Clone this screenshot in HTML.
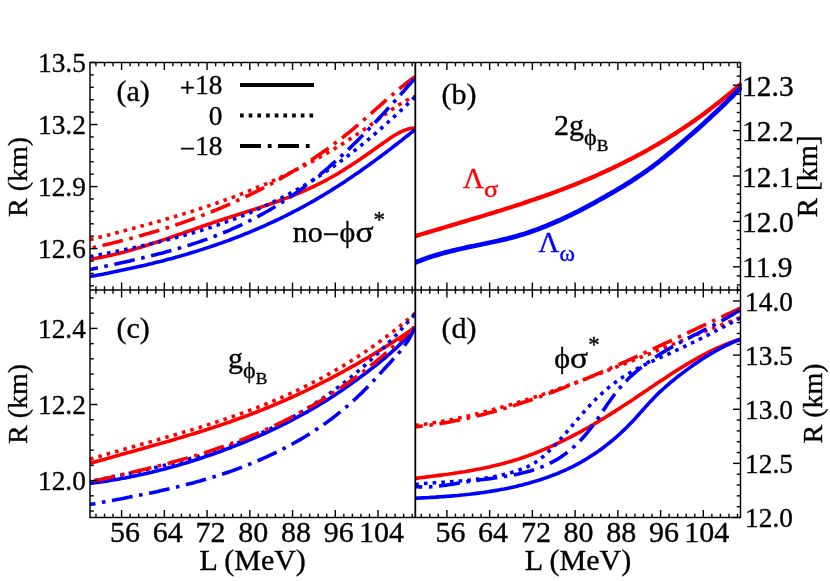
<!DOCTYPE html>
<html><head><meta charset="utf-8"><title>R vs L</title>
<style>
html,body{margin:0;padding:0;background:#fff;}
body{width:830px;height:581px;overflow:hidden;}
svg{display:block;font-family:"Liberation Serif",serif;}
text{stroke-width:0.35px;paint-order:stroke;}
svg{will-change:transform;}
</style></head><body>
<svg width="830" height="581" viewBox="0 0 830 581">
<defs>
<clipPath id="ca"><rect x="90.0" y="62.5" width="325.3" height="227.5"/></clipPath>
<clipPath id="cb"><rect x="415.3" y="62.5" width="325.2" height="227.5"/></clipPath>
<clipPath id="cb2"><rect x="415.3" y="62.5" width="326.7" height="227.5"/></clipPath>
<clipPath id="cc"><rect x="90.0" y="290.0" width="325.3" height="227.5"/></clipPath>
<clipPath id="cd"><rect x="415.3" y="290.0" width="325.2" height="227.5"/></clipPath>
</defs>
<rect width="830" height="581" fill="#fff"/>
<path d="M90.0,259.3 L92.3,258.9 L94.7,258.5 L97.0,258.1 L99.4,257.7 L101.7,257.3 L104.0,256.8 L106.4,256.3 L108.7,255.8 L111.1,255.3 L113.4,254.7 L115.7,254.1 L118.1,253.6 L120.4,253.0 L122.8,252.4 L125.1,251.7 L127.4,251.1 L129.8,250.5 L132.1,249.8 L134.5,249.1 L136.8,248.4 L139.1,247.7 L141.5,247.0 L143.8,246.3 L146.2,245.5 L148.5,244.8 L150.8,244.0 L153.2,243.3 L155.5,242.5 L157.9,241.7 L160.2,240.9 L162.5,240.2 L164.9,239.4 L167.2,238.6 L169.6,237.8 L171.9,236.9 L174.3,236.1 L176.6,235.3 L178.9,234.5 L181.3,233.7 L183.6,232.9 L186.0,232.0 L188.3,231.2 L190.6,230.4 L193.0,229.6 L195.3,228.8 L197.7,227.9 L200.0,227.1 L202.3,226.3 L204.7,225.5 L207.0,224.7 L209.4,223.9 L211.7,223.1 L214.0,222.3 L216.4,221.5 L218.7,220.8 L221.1,220.0 L223.4,219.2 L225.7,218.5 L228.1,217.7 L230.4,217.0 L232.8,216.2 L235.1,215.5 L237.4,214.7 L239.8,214.0 L242.1,213.2 L244.5,212.5 L246.8,211.7 L249.1,211.0 L251.5,210.2 L253.8,209.5 L256.2,208.7 L258.5,207.9 L260.8,207.2 L263.2,206.4 L265.5,205.6 L267.9,204.8 L270.2,204.0 L272.5,203.2 L274.9,202.4 L277.2,201.5 L279.6,200.7 L281.9,199.8 L284.2,198.9 L286.6,198.1 L288.9,197.1 L291.3,196.2 L293.6,195.3 L295.9,194.3 L298.3,193.4 L300.6,192.4 L303.0,191.4 L305.3,190.3 L307.6,189.3 L310.0,188.2 L312.3,187.1 L314.7,186.0 L317.0,184.9 L319.3,183.7 L321.7,182.5 L324.0,181.3 L326.4,180.1 L328.7,178.8 L331.0,177.5 L333.4,176.2 L335.7,174.8 L338.1,173.5 L340.4,172.0 L342.8,170.6 L345.1,169.1 L347.4,167.6 L349.8,166.1 L352.1,164.6 L354.5,163.0 L356.8,161.5 L359.1,159.9 L361.5,158.3 L363.8,156.7 L366.2,155.0 L368.5,153.4 L370.8,151.8 L373.2,150.1 L375.5,148.5 L377.9,146.8 L380.2,145.2 L382.5,143.5 L384.9,141.9 L387.2,140.2 L389.6,138.6 L391.9,137.1 L394.2,135.6 L396.6,134.2 L398.9,132.8 L401.3,131.6 L403.6,130.6 L405.9,129.7 L408.3,129.0 L410.6,128.4 L413.0,128.1 L415.3,128.1" fill="none" stroke="#ff0000" stroke-width="3.6" clip-path="url(#ca)"/>
<path d="M90.0,276.5 L92.3,276.1 L94.7,275.7 L97.0,275.2 L99.4,274.8 L101.7,274.4 L104.0,273.9 L106.4,273.4 L108.7,273.0 L111.1,272.5 L113.4,272.1 L115.7,271.6 L118.1,271.1 L120.4,270.6 L122.8,270.1 L125.1,269.6 L127.4,269.1 L129.8,268.6 L132.1,268.1 L134.5,267.6 L136.8,267.1 L139.1,266.5 L141.5,266.0 L143.8,265.5 L146.2,264.9 L148.5,264.3 L150.8,263.8 L153.2,263.2 L155.5,262.6 L157.9,262.0 L160.2,261.5 L162.5,260.9 L164.9,260.2 L167.2,259.6 L169.6,259.0 L171.9,258.4 L174.3,257.7 L176.6,257.1 L178.9,256.4 L181.3,255.8 L183.6,255.1 L186.0,254.4 L188.3,253.7 L190.6,253.0 L193.0,252.3 L195.3,251.6 L197.7,250.9 L200.0,250.1 L202.3,249.4 L204.7,248.6 L207.0,247.9 L209.4,247.1 L211.7,246.3 L214.0,245.5 L216.4,244.7 L218.7,243.9 L221.1,243.1 L223.4,242.3 L225.7,241.4 L228.1,240.6 L230.4,239.7 L232.8,238.8 L235.1,237.9 L237.4,237.0 L239.8,236.1 L242.1,235.2 L244.5,234.2 L246.8,233.3 L249.1,232.3 L251.5,231.4 L253.8,230.4 L256.2,229.4 L258.5,228.4 L260.8,227.4 L263.2,226.3 L265.5,225.3 L267.9,224.2 L270.2,223.2 L272.5,222.1 L274.9,221.0 L277.2,219.9 L279.6,218.8 L281.9,217.6 L284.2,216.5 L286.6,215.3 L288.9,214.1 L291.3,212.9 L293.6,211.7 L295.9,210.5 L298.3,209.3 L300.6,208.0 L303.0,206.8 L305.3,205.5 L307.6,204.2 L310.0,202.9 L312.3,201.6 L314.7,200.2 L317.0,198.9 L319.3,197.5 L321.7,196.1 L324.0,194.7 L326.4,193.3 L328.7,191.9 L331.0,190.4 L333.4,188.9 L335.7,187.5 L338.1,186.0 L340.4,184.5 L342.8,182.9 L345.1,181.4 L347.4,179.8 L349.8,178.3 L352.1,176.7 L354.5,175.1 L356.8,173.5 L359.1,171.9 L361.5,170.2 L363.8,168.6 L366.2,166.9 L368.5,165.2 L370.8,163.6 L373.2,161.9 L375.5,160.1 L377.9,158.4 L380.2,156.7 L382.5,154.9 L384.9,153.2 L387.2,151.4 L389.6,149.6 L391.9,147.8 L394.2,146.0 L396.6,144.2 L398.9,142.4 L401.3,140.6 L403.6,138.7 L405.9,136.9 L408.3,135.0 L410.6,133.2 L413.0,131.3 L415.3,129.4" fill="none" stroke="#0000ff" stroke-width="3.6" clip-path="url(#ca)"/>
<path d="M90.0,239.7 L92.3,239.1 L94.7,238.5 L97.0,237.9 L99.4,237.3 L101.7,236.7 L104.0,236.1 L106.4,235.5 L108.7,234.9 L111.1,234.2 L113.4,233.6 L115.7,233.0 L118.1,232.4 L120.4,231.8 L122.8,231.2 L125.1,230.5 L127.4,229.9 L129.8,229.3 L132.1,228.7 L134.5,228.0 L136.8,227.4 L139.1,226.7 L141.5,226.1 L143.8,225.5 L146.2,224.8 L148.5,224.2 L150.8,223.5 L153.2,222.9 L155.5,222.2 L157.9,221.5 L160.2,220.9 L162.5,220.2 L164.9,219.5 L167.2,218.8 L169.6,218.1 L171.9,217.4 L174.3,216.8 L176.6,216.0 L178.9,215.3 L181.3,214.6 L183.6,213.9 L186.0,213.2 L188.3,212.5 L190.6,211.7 L193.0,211.0 L195.3,210.2 L197.7,209.5 L200.0,208.7 L202.3,207.9 L204.7,207.2 L207.0,206.4 L209.4,205.6 L211.7,204.8 L214.0,204.0 L216.4,203.2 L218.7,202.3 L221.1,201.5 L223.4,200.7 L225.7,199.8 L228.1,199.0 L230.4,198.1 L232.8,197.2 L235.1,196.4 L237.4,195.5 L239.8,194.6 L242.1,193.7 L244.5,192.8 L246.8,191.8 L249.1,190.9 L251.5,189.9 L253.8,189.0 L256.2,188.0 L258.5,187.0 L260.8,186.1 L263.2,185.1 L265.5,184.1 L267.9,183.0 L270.2,182.0 L272.5,181.0 L274.9,179.9 L277.2,178.8 L279.6,177.8 L281.9,176.7 L284.2,175.6 L286.6,174.5 L288.9,173.3 L291.3,172.2 L293.6,171.0 L295.9,169.9 L298.3,168.7 L300.6,167.5 L303.0,166.3 L305.3,165.1 L307.6,163.9 L310.0,162.6 L312.3,161.4 L314.7,160.1 L317.0,158.8 L319.3,157.5 L321.7,156.2 L324.0,154.8 L326.4,153.5 L328.7,152.1 L331.0,150.8 L333.4,149.4 L335.7,148.0 L338.1,146.5 L340.4,145.1 L342.8,143.6 L345.1,142.1 L347.4,140.6 L349.8,139.1 L352.1,137.6 L354.5,136.1 L356.8,134.5 L359.1,132.9 L361.5,131.3 L363.8,129.7 L366.2,128.1 L368.5,126.4 L370.8,124.7 L373.2,123.0 L375.5,121.3 L377.9,119.6 L380.2,117.9 L382.5,116.2 L384.9,114.5 L387.2,112.8 L389.6,111.2 L391.9,109.6 L394.2,108.0 L396.6,106.4 L398.9,104.9 L401.3,103.5 L403.6,102.1 L405.9,100.7 L408.3,99.5 L410.6,98.3 L413.0,97.2 L415.3,96.1" fill="none" stroke="#ff0000" stroke-width="3.6" stroke-dasharray="3.6,5.1" stroke-dashoffset="0" clip-path="url(#ca)"/>
<path d="M90.0,256.7 L92.3,256.2 L94.7,255.7 L97.0,255.3 L99.4,254.8 L101.7,254.3 L104.0,253.9 L106.4,253.4 L108.7,252.9 L111.1,252.5 L113.4,252.0 L115.7,251.5 L118.1,251.0 L120.4,250.5 L122.8,250.0 L125.1,249.5 L127.4,249.0 L129.8,248.5 L132.1,248.0 L134.5,247.5 L136.8,247.0 L139.1,246.5 L141.5,246.0 L143.8,245.4 L146.2,244.9 L148.5,244.4 L150.8,243.8 L153.2,243.3 L155.5,242.7 L157.9,242.2 L160.2,241.6 L162.5,241.0 L164.9,240.4 L167.2,239.8 L169.6,239.2 L171.9,238.6 L174.3,238.0 L176.6,237.4 L178.9,236.8 L181.3,236.1 L183.6,235.5 L186.0,234.8 L188.3,234.2 L190.6,233.5 L193.0,232.8 L195.3,232.1 L197.7,231.4 L200.0,230.7 L202.3,230.0 L204.7,229.2 L207.0,228.5 L209.4,227.7 L211.7,227.0 L214.0,226.2 L216.4,225.4 L218.7,224.6 L221.1,223.8 L223.4,222.9 L225.7,222.1 L228.1,221.3 L230.4,220.4 L232.8,219.5 L235.1,218.6 L237.4,217.7 L239.8,216.8 L242.1,215.9 L244.5,214.9 L246.8,214.0 L249.1,213.0 L251.5,212.0 L253.8,211.0 L256.2,210.0 L258.5,208.9 L260.8,207.9 L263.2,206.8 L265.5,205.7 L267.9,204.6 L270.2,203.5 L272.5,202.4 L274.9,201.2 L277.2,200.1 L279.6,198.9 L281.9,197.7 L284.2,196.5 L286.6,195.2 L288.9,194.0 L291.3,192.7 L293.6,191.4 L295.9,190.1 L298.3,188.8 L300.6,187.4 L303.0,186.1 L305.3,184.7 L307.6,183.3 L310.0,181.9 L312.3,180.4 L314.7,178.9 L317.0,177.5 L319.3,176.0 L321.7,174.4 L324.0,172.9 L326.4,171.3 L328.7,169.7 L331.0,168.1 L333.4,166.5 L335.7,164.8 L338.1,163.1 L340.4,161.4 L342.8,159.7 L345.1,157.9 L347.4,156.2 L349.8,154.4 L352.1,152.6 L354.5,150.7 L356.8,148.9 L359.1,147.0 L361.5,145.1 L363.8,143.2 L366.2,141.3 L368.5,139.3 L370.8,137.4 L373.2,135.4 L375.5,133.4 L377.9,131.3 L380.2,129.3 L382.5,127.2 L384.9,125.1 L387.2,123.0 L389.6,120.9 L391.9,118.8 L394.2,116.6 L396.6,114.5 L398.9,112.3 L401.3,110.1 L403.6,107.9 L405.9,105.7 L408.3,103.4 L410.6,101.2 L413.0,98.9 L415.3,96.6" fill="none" stroke="#0000ff" stroke-width="3.6" stroke-dasharray="3.6,5.1" stroke-dashoffset="0" clip-path="url(#ca)"/>
<path d="M90.0,248.2 L92.3,247.7 L94.7,247.2 L97.0,246.7 L99.4,246.1 L101.7,245.6 L104.0,245.1 L106.4,244.5 L108.7,244.0 L111.1,243.4 L113.4,242.8 L115.7,242.3 L118.1,241.7 L120.4,241.1 L122.8,240.5 L125.1,239.9 L127.4,239.3 L129.8,238.7 L132.1,238.0 L134.5,237.4 L136.8,236.8 L139.1,236.1 L141.5,235.5 L143.8,234.8 L146.2,234.1 L148.5,233.5 L150.8,232.8 L153.2,232.1 L155.5,231.4 L157.9,230.7 L160.2,229.9 L162.5,229.2 L164.9,228.5 L167.2,227.7 L169.6,227.0 L171.9,226.2 L174.3,225.4 L176.6,224.7 L178.9,223.9 L181.3,223.1 L183.6,222.2 L186.0,221.4 L188.3,220.6 L190.6,219.8 L193.0,218.9 L195.3,218.0 L197.7,217.2 L200.0,216.3 L202.3,215.4 L204.7,214.5 L207.0,213.6 L209.4,212.6 L211.7,211.7 L214.0,210.8 L216.4,209.8 L218.7,208.8 L221.1,207.8 L223.4,206.8 L225.7,205.8 L228.1,204.8 L230.4,203.8 L232.8,202.7 L235.1,201.7 L237.4,200.6 L239.8,199.5 L242.1,198.5 L244.5,197.4 L246.8,196.2 L249.1,195.1 L251.5,194.0 L253.8,192.8 L256.2,191.6 L258.5,190.5 L260.8,189.3 L263.2,188.0 L265.5,186.8 L267.9,185.6 L270.2,184.3 L272.5,183.1 L274.9,181.8 L277.2,180.5 L279.6,179.2 L281.9,177.9 L284.2,176.5 L286.6,175.2 L288.9,173.8 L291.3,172.4 L293.6,171.0 L295.9,169.6 L298.3,168.2 L300.6,166.7 L303.0,165.3 L305.3,163.8 L307.6,162.3 L310.0,160.8 L312.3,159.2 L314.7,157.7 L317.0,156.1 L319.3,154.5 L321.7,152.9 L324.0,151.3 L326.4,149.6 L328.7,147.9 L331.0,146.2 L333.4,144.5 L335.7,142.7 L338.1,141.0 L340.4,139.2 L342.8,137.4 L345.1,135.5 L347.4,133.7 L349.8,131.8 L352.1,129.9 L354.5,127.9 L356.8,126.0 L359.1,124.0 L361.5,121.9 L363.8,119.9 L366.2,117.9 L368.5,115.8 L370.8,113.7 L373.2,111.6 L375.5,109.5 L377.9,107.4 L380.2,105.4 L382.5,103.3 L384.9,101.2 L387.2,99.1 L389.6,97.1 L391.9,95.1 L394.2,93.1 L396.6,91.1 L398.9,89.2 L401.3,87.2 L403.6,85.4 L405.9,83.5 L408.3,81.7 L410.6,80.0 L413.0,78.3 L415.3,76.6" fill="none" stroke="#ff0000" stroke-width="3.6" stroke-dasharray="21,6.6,3.6,6.6" stroke-dashoffset="25" clip-path="url(#ca)"/>
<path d="M90.0,269.4 L92.3,269.0 L94.7,268.5 L97.0,268.0 L99.4,267.5 L101.7,267.0 L104.0,266.5 L106.4,266.0 L108.7,265.5 L111.1,265.0 L113.4,264.5 L115.7,264.0 L118.1,263.4 L120.4,262.9 L122.8,262.4 L125.1,261.9 L127.4,261.4 L129.8,260.9 L132.1,260.3 L134.5,259.8 L136.8,259.2 L139.1,258.7 L141.5,258.2 L143.8,257.6 L146.2,257.0 L148.5,256.5 L150.8,255.9 L153.2,255.3 L155.5,254.7 L157.9,254.1 L160.2,253.5 L162.5,252.9 L164.9,252.2 L167.2,251.6 L169.6,251.0 L171.9,250.3 L174.3,249.6 L176.6,249.0 L178.9,248.3 L181.3,247.6 L183.6,246.9 L186.0,246.2 L188.3,245.4 L190.6,244.7 L193.0,243.9 L195.3,243.1 L197.7,242.4 L200.0,241.6 L202.3,240.7 L204.7,239.9 L207.0,239.1 L209.4,238.2 L211.7,237.3 L214.0,236.5 L216.4,235.5 L218.7,234.6 L221.1,233.7 L223.4,232.7 L225.7,231.8 L228.1,230.8 L230.4,229.8 L232.8,228.7 L235.1,227.7 L237.4,226.6 L239.8,225.6 L242.1,224.5 L244.5,223.3 L246.8,222.2 L249.1,221.0 L251.5,219.8 L253.8,218.6 L256.2,217.4 L258.5,216.2 L260.8,214.9 L263.2,213.6 L265.5,212.3 L267.9,211.0 L270.2,209.6 L272.5,208.2 L274.9,206.8 L277.2,205.4 L279.6,203.9 L281.9,202.5 L284.2,200.9 L286.6,199.4 L288.9,197.9 L291.3,196.3 L293.6,194.7 L295.9,193.0 L298.3,191.4 L300.6,189.7 L303.0,188.0 L305.3,186.2 L307.6,184.4 L310.0,182.6 L312.3,180.8 L314.7,178.9 L317.0,177.1 L319.3,175.2 L321.7,173.2 L324.0,171.3 L326.4,169.3 L328.7,167.3 L331.0,165.2 L333.4,163.2 L335.7,161.1 L338.1,159.0 L340.4,156.8 L342.8,154.7 L345.1,152.5 L347.4,150.3 L349.8,148.1 L352.1,145.8 L354.5,143.5 L356.8,141.2 L359.1,138.9 L361.5,136.6 L363.8,134.2 L366.2,131.8 L368.5,129.4 L370.8,127.0 L373.2,124.5 L375.5,122.0 L377.9,119.5 L380.2,117.0 L382.5,114.5 L384.9,112.0 L387.2,109.4 L389.6,106.8 L391.9,104.3 L394.2,101.7 L396.6,99.1 L398.9,96.4 L401.3,93.8 L403.6,91.2 L405.9,88.5 L408.3,85.8 L410.6,83.2 L413.0,80.5 L415.3,77.8" fill="none" stroke="#0000ff" stroke-width="3.6" stroke-dasharray="21,6.6,3.6,6.6" stroke-dashoffset="13" clip-path="url(#ca)"/>
<path d="M415.3,236.2 L417.6,235.4 L420.0,234.7 L422.3,234.0 L424.7,233.3 L427.0,232.6 L429.4,231.9 L431.7,231.2 L434.1,230.5 L436.4,229.8 L438.8,229.1 L441.1,228.4 L443.5,227.7 L445.8,227.0 L448.2,226.3 L450.5,225.6 L452.8,224.9 L455.2,224.2 L457.5,223.5 L459.9,222.8 L462.2,222.1 L464.6,221.4 L466.9,220.7 L469.3,220.0 L471.6,219.3 L474.0,218.6 L476.3,217.9 L478.7,217.2 L481.0,216.5 L483.4,215.8 L485.7,215.0 L488.0,214.3 L490.4,213.6 L492.7,212.9 L495.1,212.2 L497.4,211.4 L499.8,210.7 L502.1,210.0 L504.5,209.2 L506.8,208.5 L509.2,207.8 L511.5,207.0 L513.9,206.3 L516.2,205.5 L518.6,204.7 L520.9,204.0 L523.3,203.2 L525.6,202.4 L527.9,201.6 L530.3,200.8 L532.6,200.0 L535.0,199.2 L537.3,198.4 L539.7,197.6 L542.0,196.8 L544.4,196.0 L546.7,195.1 L549.1,194.3 L551.4,193.4 L553.8,192.6 L556.1,191.7 L558.5,190.8 L560.8,190.0 L563.1,189.1 L565.5,188.2 L567.8,187.3 L570.2,186.3 L572.5,185.4 L574.9,184.5 L577.2,183.5 L579.6,182.6 L581.9,181.6 L584.3,180.6 L586.6,179.7 L589.0,178.7 L591.3,177.7 L593.7,176.7 L596.0,175.6 L598.3,174.6 L600.7,173.5 L603.0,172.5 L605.4,171.4 L607.7,170.3 L610.1,169.2 L612.4,168.1 L614.8,167.0 L617.1,165.9 L619.5,164.7 L621.8,163.6 L624.2,162.4 L626.5,161.2 L628.9,160.0 L631.2,158.8 L633.5,157.6 L635.9,156.4 L638.2,155.1 L640.6,153.9 L642.9,152.6 L645.3,151.3 L647.6,150.0 L650.0,148.7 L652.3,147.3 L654.7,146.0 L657.0,144.6 L659.4,143.2 L661.7,141.8 L664.1,140.4 L666.4,139.0 L668.8,137.5 L671.1,136.0 L673.4,134.6 L675.8,133.1 L678.1,131.5 L680.5,130.0 L682.8,128.5 L685.2,126.9 L687.5,125.3 L689.9,123.7 L692.2,122.1 L694.6,120.4 L696.9,118.8 L699.3,117.1 L701.6,115.4 L704.0,113.7 L706.3,111.9 L708.6,110.2 L711.0,108.4 L713.3,106.6 L715.7,104.8 L718.0,103.0 L720.4,101.1 L722.7,99.2 L725.1,97.3 L727.4,95.4 L729.8,93.5 L732.1,91.5 L734.5,89.5 L736.8,87.5 L739.2,85.5 L741.5,83.4" fill="none" stroke="#ff0000" stroke-width="4.3" clip-path="url(#cb2)"/>
<path d="M415.3,262.6 L417.6,261.6 L420.0,260.7 L422.3,259.8 L424.7,258.9 L427.0,258.1 L429.4,257.3 L431.7,256.5 L434.1,255.8 L436.4,255.1 L438.8,254.4 L441.1,253.7 L443.5,253.0 L445.8,252.4 L448.2,251.8 L450.5,251.2 L452.8,250.6 L455.2,250.1 L457.5,249.5 L459.9,249.0 L462.2,248.5 L464.6,248.0 L466.9,247.4 L469.3,246.9 L471.6,246.4 L474.0,246.0 L476.3,245.5 L478.7,245.0 L481.0,244.5 L483.4,244.0 L485.7,243.5 L488.0,243.0 L490.4,242.5 L492.7,242.0 L495.1,241.5 L497.4,241.0 L499.8,240.4 L502.1,239.9 L504.5,239.3 L506.8,238.8 L509.2,238.2 L511.5,237.6 L513.9,236.9 L516.2,236.3 L518.6,235.6 L520.9,234.9 L523.3,234.2 L525.6,233.5 L527.9,232.7 L530.3,231.9 L532.6,231.1 L535.0,230.3 L537.3,229.4 L539.7,228.6 L542.0,227.6 L544.4,226.7 L546.7,225.8 L549.1,224.8 L551.4,223.8 L553.8,222.8 L556.1,221.8 L558.5,220.7 L560.8,219.7 L563.1,218.6 L565.5,217.5 L567.8,216.4 L570.2,215.3 L572.5,214.1 L574.9,212.9 L577.2,211.8 L579.6,210.6 L581.9,209.4 L584.3,208.1 L586.6,206.9 L589.0,205.6 L591.3,204.4 L593.7,203.1 L596.0,201.8 L598.3,200.5 L600.7,199.2 L603.0,197.9 L605.4,196.6 L607.7,195.2 L610.1,193.9 L612.4,192.5 L614.8,191.2 L617.1,189.8 L619.5,188.4 L621.8,187.0 L624.2,185.6 L626.5,184.1 L628.9,182.6 L631.2,181.2 L633.5,179.6 L635.9,178.1 L638.2,176.6 L640.6,175.0 L642.9,173.4 L645.3,171.7 L647.6,170.1 L650.0,168.4 L652.3,166.7 L654.7,164.9 L657.0,163.1 L659.4,161.3 L661.7,159.4 L664.1,157.6 L666.4,155.7 L668.8,153.7 L671.1,151.8 L673.4,149.8 L675.8,147.9 L678.1,145.9 L680.5,143.9 L682.8,141.9 L685.2,139.8 L687.5,137.8 L689.9,135.8 L692.2,133.7 L694.6,131.6 L696.9,129.6 L699.3,127.5 L701.6,125.4 L704.0,123.2 L706.3,121.1 L708.6,119.0 L711.0,116.8 L713.3,114.6 L715.7,112.4 L718.0,110.2 L720.4,108.0 L722.7,105.7 L725.1,103.4 L727.4,101.1 L729.8,98.8 L732.1,96.5 L734.5,94.1 L736.8,91.8 L739.2,89.4 L741.5,86.9" fill="none" stroke="#0000ff" stroke-width="4.8" clip-path="url(#cb2)"/>
<path d="M90.0,463.4 L92.3,462.7 L94.7,462.0 L97.0,461.3 L99.4,460.7 L101.7,460.0 L104.0,459.4 L106.4,458.7 L108.7,458.0 L111.1,457.4 L113.4,456.7 L115.7,456.1 L118.1,455.4 L120.4,454.8 L122.8,454.1 L125.1,453.5 L127.4,452.8 L129.8,452.2 L132.1,451.5 L134.5,450.9 L136.8,450.2 L139.1,449.6 L141.5,448.9 L143.8,448.2 L146.2,447.6 L148.5,446.9 L150.8,446.3 L153.2,445.6 L155.5,444.9 L157.9,444.3 L160.2,443.6 L162.5,442.9 L164.9,442.3 L167.2,441.6 L169.6,440.9 L171.9,440.2 L174.3,439.5 L176.6,438.8 L178.9,438.1 L181.3,437.4 L183.6,436.7 L186.0,436.0 L188.3,435.3 L190.6,434.6 L193.0,433.9 L195.3,433.2 L197.7,432.5 L200.0,431.7 L202.3,431.0 L204.7,430.2 L207.0,429.5 L209.4,428.7 L211.7,428.0 L214.0,427.2 L216.4,426.4 L218.7,425.7 L221.1,424.9 L223.4,424.1 L225.7,423.3 L228.1,422.5 L230.4,421.7 L232.8,420.8 L235.1,420.0 L237.4,419.2 L239.8,418.3 L242.1,417.5 L244.5,416.6 L246.8,415.8 L249.1,414.9 L251.5,414.0 L253.8,413.1 L256.2,412.2 L258.5,411.3 L260.8,410.4 L263.2,409.4 L265.5,408.5 L267.9,407.5 L270.2,406.6 L272.5,405.6 L274.9,404.6 L277.2,403.6 L279.6,402.6 L281.9,401.6 L284.2,400.6 L286.6,399.6 L288.9,398.5 L291.3,397.5 L293.6,396.4 L295.9,395.4 L298.3,394.3 L300.6,393.2 L303.0,392.1 L305.3,391.0 L307.6,389.9 L310.0,388.7 L312.3,387.6 L314.7,386.4 L317.0,385.3 L319.3,384.1 L321.7,382.9 L324.0,381.7 L326.4,380.5 L328.7,379.3 L331.0,378.1 L333.4,376.8 L335.7,375.6 L338.1,374.4 L340.4,373.1 L342.8,371.8 L345.1,370.5 L347.4,369.2 L349.8,367.9 L352.1,366.6 L354.5,365.3 L356.8,364.0 L359.1,362.6 L361.5,361.3 L363.8,359.9 L366.2,358.5 L368.5,357.2 L370.8,355.8 L373.2,354.4 L375.5,352.9 L377.9,351.5 L380.2,350.1 L382.5,348.6 L384.9,347.2 L387.2,345.7 L389.6,344.2 L391.9,342.8 L394.2,341.3 L396.6,339.8 L398.9,338.2 L401.3,336.7 L403.6,335.2 L405.9,333.6 L408.3,332.1 L410.6,330.5 L413.0,329.0 L415.3,327.4" fill="none" stroke="#ff0000" stroke-width="3.6" clip-path="url(#cc)"/>
<path d="M90.0,483.4 L92.3,483.1 L94.7,482.8 L97.0,482.5 L99.4,482.1 L101.7,481.8 L104.0,481.5 L106.4,481.1 L108.7,480.7 L111.1,480.3 L113.4,480.0 L115.7,479.6 L118.1,479.2 L120.4,478.7 L122.8,478.3 L125.1,477.9 L127.4,477.4 L129.8,477.0 L132.1,476.5 L134.5,476.0 L136.8,475.5 L139.1,475.0 L141.5,474.5 L143.8,474.0 L146.2,473.5 L148.5,472.9 L150.8,472.4 L153.2,471.8 L155.5,471.2 L157.9,470.7 L160.2,470.1 L162.5,469.5 L164.9,468.9 L167.2,468.2 L169.6,467.6 L171.9,467.0 L174.3,466.3 L176.6,465.7 L178.9,465.0 L181.3,464.3 L183.6,463.6 L186.0,462.9 L188.3,462.2 L190.6,461.5 L193.0,460.8 L195.3,460.0 L197.7,459.3 L200.0,458.5 L202.3,457.7 L204.7,456.9 L207.0,456.1 L209.4,455.3 L211.7,454.5 L214.0,453.7 L216.4,452.9 L218.7,452.0 L221.1,451.2 L223.4,450.3 L225.7,449.4 L228.1,448.5 L230.4,447.7 L232.8,446.7 L235.1,445.8 L237.4,444.9 L239.8,444.0 L242.1,443.0 L244.5,442.1 L246.8,441.1 L249.1,440.1 L251.5,439.1 L253.8,438.1 L256.2,437.1 L258.5,436.1 L260.8,435.1 L263.2,434.0 L265.5,433.0 L267.9,431.9 L270.2,430.8 L272.5,429.7 L274.9,428.6 L277.2,427.5 L279.6,426.3 L281.9,425.2 L284.2,424.0 L286.6,422.9 L288.9,421.7 L291.3,420.4 L293.6,419.2 L295.9,418.0 L298.3,416.7 L300.6,415.5 L303.0,414.2 L305.3,412.9 L307.6,411.6 L310.0,410.2 L312.3,408.9 L314.7,407.5 L317.0,406.1 L319.3,404.7 L321.7,403.3 L324.0,401.9 L326.4,400.4 L328.7,398.9 L331.0,397.4 L333.4,395.9 L335.7,394.4 L338.1,392.8 L340.4,391.3 L342.8,389.7 L345.1,388.1 L347.4,386.4 L349.8,384.8 L352.1,383.1 L354.5,381.4 L356.8,379.7 L359.1,378.0 L361.5,376.3 L363.8,374.5 L366.2,372.7 L368.5,371.0 L370.8,369.2 L373.2,367.4 L375.5,365.5 L377.9,363.7 L380.2,361.8 L382.5,359.9 L384.9,358.0 L387.2,356.0 L389.6,354.0 L391.9,351.9 L394.2,349.8 L396.6,347.7 L398.9,345.4 L401.3,343.2 L403.6,340.8 L405.9,338.4 L408.3,336.0 L410.6,333.4 L413.0,330.8 L415.3,328.0" fill="none" stroke="#0000ff" stroke-width="3.6" clip-path="url(#cc)"/>
<path d="M90.0,459.2 L92.3,458.5 L94.7,457.8 L97.0,457.1 L99.4,456.4 L101.7,455.7 L104.0,455.0 L106.4,454.4 L108.7,453.7 L111.1,453.0 L113.4,452.3 L115.7,451.6 L118.1,451.0 L120.4,450.3 L122.8,449.6 L125.1,449.0 L127.4,448.3 L129.8,447.6 L132.1,447.0 L134.5,446.3 L136.8,445.7 L139.1,445.0 L141.5,444.3 L143.8,443.7 L146.2,443.0 L148.5,442.4 L150.8,441.7 L153.2,441.0 L155.5,440.4 L157.9,439.7 L160.2,439.0 L162.5,438.4 L164.9,437.7 L167.2,437.0 L169.6,436.3 L171.9,435.7 L174.3,435.0 L176.6,434.3 L178.9,433.6 L181.3,432.9 L183.6,432.2 L186.0,431.5 L188.3,430.8 L190.6,430.1 L193.0,429.4 L195.3,428.7 L197.7,428.0 L200.0,427.3 L202.3,426.5 L204.7,425.8 L207.0,425.1 L209.4,424.3 L211.7,423.6 L214.0,422.8 L216.4,422.0 L218.7,421.3 L221.1,420.5 L223.4,419.7 L225.7,418.9 L228.1,418.1 L230.4,417.3 L232.8,416.5 L235.1,415.7 L237.4,414.9 L239.8,414.0 L242.1,413.2 L244.5,412.3 L246.8,411.5 L249.1,410.6 L251.5,409.7 L253.8,408.8 L256.2,407.9 L258.5,407.0 L260.8,406.1 L263.2,405.2 L265.5,404.2 L267.9,403.3 L270.2,402.3 L272.5,401.3 L274.9,400.3 L277.2,399.3 L279.6,398.3 L281.9,397.3 L284.2,396.3 L286.6,395.2 L288.9,394.2 L291.3,393.1 L293.6,392.0 L295.9,390.9 L298.3,389.8 L300.6,388.7 L303.0,387.6 L305.3,386.4 L307.6,385.3 L310.0,384.1 L312.3,382.9 L314.7,381.7 L317.0,380.5 L319.3,379.2 L321.7,378.0 L324.0,376.7 L326.4,375.4 L328.7,374.1 L331.0,372.8 L333.4,371.5 L335.7,370.1 L338.1,368.8 L340.4,367.4 L342.8,366.0 L345.1,364.6 L347.4,363.2 L349.8,361.7 L352.1,360.2 L354.5,358.8 L356.8,357.3 L359.1,355.7 L361.5,354.2 L363.8,352.6 L366.2,351.1 L368.5,349.5 L370.8,347.8 L373.2,346.2 L375.5,344.6 L377.9,342.9 L380.2,341.2 L382.5,339.5 L384.9,337.7 L387.2,336.0 L389.6,334.2 L391.9,332.4 L394.2,330.6 L396.6,328.7 L398.9,326.9 L401.3,325.0 L403.6,323.1 L405.9,321.1 L408.3,319.2 L410.6,317.2 L413.0,315.2 L415.3,313.2" fill="none" stroke="#ff0000" stroke-width="3.6" stroke-dasharray="3.6,5.1" stroke-dashoffset="0" clip-path="url(#cc)"/>
<path d="M90.0,481.4 L92.3,480.9 L94.7,480.4 L97.0,480.0 L99.4,479.5 L101.7,479.0 L104.0,478.5 L106.4,478.1 L108.7,477.6 L111.1,477.1 L113.4,476.6 L115.7,476.2 L118.1,475.7 L120.4,475.2 L122.8,474.7 L125.1,474.2 L127.4,473.7 L129.8,473.2 L132.1,472.7 L134.5,472.2 L136.8,471.7 L139.1,471.2 L141.5,470.7 L143.8,470.2 L146.2,469.7 L148.5,469.1 L150.8,468.6 L153.2,468.1 L155.5,467.5 L157.9,467.0 L160.2,466.4 L162.5,465.9 L164.9,465.3 L167.2,464.7 L169.6,464.1 L171.9,463.5 L174.3,462.9 L176.6,462.3 L178.9,461.7 L181.3,461.1 L183.6,460.5 L186.0,459.8 L188.3,459.2 L190.6,458.5 L193.0,457.9 L195.3,457.2 L197.7,456.5 L200.0,455.8 L202.3,455.1 L204.7,454.4 L207.0,453.6 L209.4,452.9 L211.7,452.1 L214.0,451.4 L216.4,450.6 L218.7,449.8 L221.1,449.0 L223.4,448.2 L225.7,447.3 L228.1,446.5 L230.4,445.6 L232.8,444.8 L235.1,443.9 L237.4,443.0 L239.8,442.1 L242.1,441.2 L244.5,440.2 L246.8,439.2 L249.1,438.3 L251.5,437.3 L253.8,436.3 L256.2,435.3 L258.5,434.2 L260.8,433.2 L263.2,432.1 L265.5,431.0 L267.9,429.9 L270.2,428.8 L272.5,427.6 L274.9,426.5 L277.2,425.3 L279.6,424.1 L281.9,422.9 L284.2,421.6 L286.6,420.4 L288.9,419.1 L291.3,417.8 L293.6,416.5 L295.9,415.1 L298.3,413.8 L300.6,412.4 L303.0,411.0 L305.3,409.6 L307.6,408.1 L310.0,406.7 L312.3,405.2 L314.7,403.7 L317.0,402.1 L319.3,400.6 L321.7,399.0 L324.0,397.4 L326.4,395.8 L328.7,394.1 L331.0,392.5 L333.4,390.8 L335.7,389.0 L338.1,387.3 L340.4,385.5 L342.8,383.7 L345.1,381.9 L347.4,380.0 L349.8,378.2 L352.1,376.2 L354.5,374.3 L356.8,372.4 L359.1,370.4 L361.5,368.4 L363.8,366.3 L366.2,364.2 L368.5,362.1 L370.8,360.0 L373.2,357.8 L375.5,355.6 L377.9,353.4 L380.2,351.2 L382.5,348.9 L384.9,346.6 L387.2,344.2 L389.6,341.8 L391.9,339.4 L394.2,337.0 L396.6,334.5 L398.9,331.9 L401.3,329.4 L403.6,326.8 L405.9,324.2 L408.3,321.5 L410.6,318.8 L413.0,316.1 L415.3,313.3" fill="none" stroke="#0000ff" stroke-width="3.6" stroke-dasharray="3.6,5.1" stroke-dashoffset="4" clip-path="url(#cc)"/>
<path d="M90.0,481.9 L92.3,481.4 L94.7,480.9 L97.0,480.3 L99.4,479.8 L101.7,479.3 L104.0,478.8 L106.4,478.2 L108.7,477.7 L111.1,477.2 L113.4,476.6 L115.7,476.1 L118.1,475.6 L120.4,475.0 L122.8,474.5 L125.1,473.9 L127.4,473.4 L129.8,472.9 L132.1,472.3 L134.5,471.7 L136.8,471.2 L139.1,470.6 L141.5,470.1 L143.8,469.5 L146.2,468.9 L148.5,468.3 L150.8,467.8 L153.2,467.2 L155.5,466.6 L157.9,466.0 L160.2,465.4 L162.5,464.8 L164.9,464.2 L167.2,463.5 L169.6,462.9 L171.9,462.3 L174.3,461.6 L176.6,461.0 L178.9,460.3 L181.3,459.7 L183.6,459.0 L186.0,458.4 L188.3,457.7 L190.6,457.0 L193.0,456.3 L195.3,455.6 L197.7,454.9 L200.0,454.1 L202.3,453.4 L204.7,452.7 L207.0,451.9 L209.4,451.2 L211.7,450.4 L214.0,449.6 L216.4,448.8 L218.7,448.0 L221.1,447.2 L223.4,446.4 L225.7,445.6 L228.1,444.7 L230.4,443.9 L232.8,443.0 L235.1,442.2 L237.4,441.3 L239.8,440.4 L242.1,439.5 L244.5,438.6 L246.8,437.6 L249.1,436.7 L251.5,435.7 L253.8,434.8 L256.2,433.8 L258.5,432.8 L260.8,431.8 L263.2,430.7 L265.5,429.7 L267.9,428.6 L270.2,427.6 L272.5,426.5 L274.9,425.4 L277.2,424.3 L279.6,423.2 L281.9,422.0 L284.2,420.9 L286.6,419.7 L288.9,418.5 L291.3,417.3 L293.6,416.1 L295.9,414.9 L298.3,413.6 L300.6,412.3 L303.0,411.1 L305.3,409.8 L307.6,408.4 L310.0,407.1 L312.3,405.8 L314.7,404.4 L317.0,403.0 L319.3,401.6 L321.7,400.2 L324.0,398.7 L326.4,397.2 L328.7,395.8 L331.0,394.3 L333.4,392.7 L335.7,391.2 L338.1,389.6 L340.4,388.1 L342.8,386.5 L345.1,384.8 L347.4,383.2 L349.8,381.5 L352.1,379.9 L354.5,378.2 L356.8,376.4 L359.1,374.7 L361.5,372.9 L363.8,371.1 L366.2,369.3 L368.5,367.5 L370.8,365.6 L373.2,363.7 L375.5,361.8 L377.9,359.9 L380.2,358.0 L382.5,356.0 L384.9,354.0 L387.2,352.0 L389.6,349.9 L391.9,347.9 L394.2,345.8 L396.6,343.7 L398.9,341.5 L401.3,339.4 L403.6,337.2 L405.9,335.0 L408.3,332.7 L410.6,330.5 L413.0,328.2 L415.3,325.9" fill="none" stroke="#ff0000" stroke-width="3.6" stroke-dasharray="21,6.6,3.6,6.6" stroke-dashoffset="33.6" clip-path="url(#cc)"/>
<path d="M90.0,504.5 L92.3,504.1 L94.7,503.7 L97.0,503.2 L99.4,502.8 L101.7,502.4 L104.0,501.9 L106.4,501.5 L108.7,501.1 L111.1,500.6 L113.4,500.2 L115.7,499.8 L118.1,499.3 L120.4,498.9 L122.8,498.4 L125.1,498.0 L127.4,497.5 L129.8,497.1 L132.1,496.6 L134.5,496.2 L136.8,495.7 L139.1,495.3 L141.5,494.8 L143.8,494.3 L146.2,493.8 L148.5,493.4 L150.8,492.9 L153.2,492.4 L155.5,491.9 L157.9,491.4 L160.2,490.8 L162.5,490.3 L164.9,489.8 L167.2,489.3 L169.6,488.7 L171.9,488.2 L174.3,487.6 L176.6,487.1 L178.9,486.5 L181.3,485.9 L183.6,485.3 L186.0,484.7 L188.3,484.1 L190.6,483.5 L193.0,482.9 L195.3,482.3 L197.7,481.6 L200.0,481.0 L202.3,480.3 L204.7,479.6 L207.0,478.9 L209.4,478.2 L211.7,477.5 L214.0,476.8 L216.4,476.1 L218.7,475.3 L221.1,474.6 L223.4,473.8 L225.7,473.0 L228.1,472.2 L230.4,471.4 L232.8,470.6 L235.1,469.7 L237.4,468.9 L239.8,468.0 L242.1,467.1 L244.5,466.2 L246.8,465.3 L249.1,464.4 L251.5,463.4 L253.8,462.4 L256.2,461.5 L258.5,460.5 L260.8,459.5 L263.2,458.4 L265.5,457.4 L267.9,456.3 L270.2,455.2 L272.5,454.1 L274.9,453.0 L277.2,451.9 L279.6,450.7 L281.9,449.5 L284.2,448.3 L286.6,447.1 L288.9,445.9 L291.3,444.6 L293.6,443.3 L295.9,442.0 L298.3,440.7 L300.6,439.4 L303.0,438.0 L305.3,436.6 L307.6,435.1 L310.0,433.7 L312.3,432.2 L314.7,430.7 L317.0,429.1 L319.3,427.6 L321.7,426.0 L324.0,424.3 L326.4,422.6 L328.7,420.9 L331.0,419.2 L333.4,417.4 L335.7,415.6 L338.1,413.7 L340.4,411.9 L342.8,409.9 L345.1,408.0 L347.4,406.0 L349.8,403.9 L352.1,401.8 L354.5,399.7 L356.8,397.5 L359.1,395.3 L361.5,393.1 L363.8,390.7 L366.2,388.4 L368.5,386.0 L370.8,383.6 L373.2,381.1 L375.5,378.6 L377.9,376.0 L380.2,373.5 L382.5,370.9 L384.9,368.3 L387.2,365.7 L389.6,363.2 L391.9,360.6 L394.2,358.1 L396.6,355.5 L398.9,352.9 L401.3,350.1 L403.6,347.1 L405.9,343.8 L408.3,340.2 L410.6,336.1 L413.0,331.6 L415.3,326.6" fill="none" stroke="#0000ff" stroke-width="3.6" stroke-dasharray="21,6.6,3.6,6.6" stroke-dashoffset="15.5" clip-path="url(#cc)"/>
<path d="M415.3,478.4 L417.6,478.1 L420.0,477.8 L422.3,477.5 L424.7,477.2 L427.0,476.9 L429.4,476.6 L431.7,476.3 L434.0,476.0 L436.4,475.7 L438.7,475.4 L441.1,475.1 L443.4,474.8 L445.8,474.5 L448.1,474.2 L450.4,473.8 L452.8,473.5 L455.1,473.1 L457.5,472.8 L459.8,472.4 L462.2,472.0 L464.5,471.7 L466.8,471.3 L469.2,470.9 L471.5,470.5 L473.9,470.0 L476.2,469.6 L478.6,469.1 L480.9,468.7 L483.3,468.2 L485.6,467.7 L487.9,467.2 L490.3,466.7 L492.6,466.1 L495.0,465.6 L497.3,465.0 L499.7,464.4 L502.0,463.8 L504.3,463.2 L506.7,462.6 L509.0,461.9 L511.4,461.2 L513.7,460.5 L516.1,459.8 L518.4,459.1 L520.7,458.3 L523.1,457.5 L525.4,456.7 L527.8,455.9 L530.1,455.0 L532.5,454.1 L534.8,453.2 L537.1,452.3 L539.5,451.4 L541.8,450.4 L544.2,449.4 L546.5,448.4 L548.9,447.4 L551.2,446.4 L553.5,445.3 L555.9,444.2 L558.2,443.1 L560.6,442.0 L562.9,440.8 L565.3,439.7 L567.6,438.5 L569.9,437.3 L572.3,436.1 L574.6,434.9 L577.0,433.6 L579.3,432.4 L581.7,431.1 L584.0,429.8 L586.4,428.5 L588.7,427.2 L591.0,425.8 L593.4,424.5 L595.7,423.1 L598.1,421.7 L600.4,420.3 L602.8,418.9 L605.1,417.5 L607.4,416.0 L609.8,414.6 L612.1,413.1 L614.5,411.6 L616.8,410.1 L619.2,408.6 L621.5,407.1 L623.8,405.6 L626.2,404.0 L628.5,402.5 L630.9,400.9 L633.2,399.4 L635.6,397.8 L637.9,396.2 L640.2,394.6 L642.6,393.1 L644.9,391.5 L647.3,389.9 L649.6,388.3 L652.0,386.7 L654.3,385.2 L656.6,383.6 L659.0,382.0 L661.3,380.5 L663.7,378.9 L666.0,377.4 L668.4,375.9 L670.7,374.3 L673.0,372.8 L675.4,371.3 L677.7,369.8 L680.1,368.4 L682.4,366.9 L684.8,365.5 L687.1,364.1 L689.5,362.7 L691.8,361.3 L694.1,360.0 L696.5,358.6 L698.8,357.3 L701.2,356.0 L703.5,354.8 L705.9,353.5 L708.2,352.3 L710.5,351.2 L712.9,350.0 L715.2,348.9 L717.6,347.8 L719.9,346.8 L722.3,345.8 L724.6,344.8 L726.9,343.9 L729.3,343.0 L731.6,342.1 L734.0,341.3 L736.3,340.5 L738.7,339.8 L741.0,339.1" fill="none" stroke="#ff0000" stroke-width="3.6" clip-path="url(#cd)"/>
<path d="M415.3,498.3 L417.6,498.1 L420.0,498.0 L422.3,497.9 L424.7,497.8 L427.0,497.7 L429.4,497.5 L431.7,497.4 L434.0,497.3 L436.4,497.1 L438.7,496.9 L441.1,496.8 L443.4,496.6 L445.8,496.4 L448.1,496.3 L450.4,496.1 L452.8,495.9 L455.1,495.7 L457.5,495.5 L459.8,495.2 L462.2,495.0 L464.5,494.8 L466.8,494.5 L469.2,494.3 L471.5,494.0 L473.9,493.7 L476.2,493.4 L478.6,493.1 L480.9,492.8 L483.3,492.5 L485.6,492.1 L487.9,491.8 L490.3,491.4 L492.6,491.0 L495.0,490.6 L497.3,490.2 L499.7,489.8 L502.0,489.3 L504.3,488.9 L506.7,488.4 L509.0,487.9 L511.4,487.4 L513.7,486.9 L516.1,486.4 L518.4,485.8 L520.7,485.2 L523.1,484.7 L525.4,484.0 L527.8,483.4 L530.1,482.8 L532.5,482.1 L534.8,481.4 L537.1,480.7 L539.5,480.0 L541.8,479.2 L544.2,478.4 L546.5,477.6 L548.9,476.8 L551.2,475.9 L553.5,475.0 L555.9,474.1 L558.2,473.2 L560.6,472.2 L562.9,471.2 L565.3,470.1 L567.6,469.0 L569.9,467.9 L572.3,466.8 L574.6,465.6 L577.0,464.3 L579.3,463.1 L581.7,461.8 L584.0,460.4 L586.4,459.0 L588.7,457.6 L591.0,456.1 L593.4,454.6 L595.7,453.0 L598.1,451.4 L600.4,449.7 L602.8,448.0 L605.1,446.2 L607.4,444.4 L609.8,442.5 L612.1,440.6 L614.5,438.6 L616.8,436.6 L619.2,434.5 L621.5,432.3 L623.8,430.1 L626.2,427.9 L628.5,425.5 L630.9,423.1 L633.2,420.7 L635.6,418.1 L637.9,415.5 L640.2,412.9 L642.6,410.2 L644.9,407.6 L647.3,405.0 L649.6,402.4 L652.0,399.9 L654.3,397.5 L656.6,395.1 L659.0,392.8 L661.3,390.6 L663.7,388.5 L666.0,386.4 L668.4,384.4 L670.7,382.4 L673.0,380.5 L675.4,378.6 L677.7,376.7 L680.1,374.9 L682.4,373.1 L684.8,371.4 L687.1,369.6 L689.5,367.9 L691.8,366.2 L694.1,364.6 L696.5,363.0 L698.8,361.4 L701.2,359.8 L703.5,358.3 L705.9,356.8 L708.2,355.4 L710.5,353.9 L712.9,352.6 L715.2,351.2 L717.6,349.9 L719.9,348.6 L722.3,347.4 L724.6,346.2 L726.9,345.1 L729.3,344.0 L731.6,342.9 L734.0,341.9 L736.3,340.9 L738.7,340.0 L741.0,339.1" fill="none" stroke="#0000ff" stroke-width="3.6" clip-path="url(#cd)"/>
<path d="M415.3,425.4 L417.6,425.1 L420.0,424.8 L422.3,424.5 L424.7,424.2 L427.0,423.8 L429.4,423.5 L431.7,423.1 L434.0,422.7 L436.4,422.3 L438.7,421.9 L441.1,421.5 L443.4,421.1 L445.8,420.6 L448.1,420.2 L450.4,419.7 L452.8,419.3 L455.1,418.8 L457.5,418.3 L459.8,417.8 L462.2,417.3 L464.5,416.8 L466.8,416.2 L469.2,415.7 L471.5,415.1 L473.9,414.6 L476.2,414.0 L478.6,413.4 L480.9,412.8 L483.3,412.2 L485.6,411.6 L487.9,411.0 L490.3,410.4 L492.6,409.8 L495.0,409.1 L497.3,408.5 L499.7,407.8 L502.0,407.1 L504.3,406.5 L506.7,405.8 L509.0,405.1 L511.4,404.4 L513.7,403.7 L516.1,403.0 L518.4,402.3 L520.7,401.5 L523.1,400.8 L525.4,400.0 L527.8,399.3 L530.1,398.5 L532.5,397.8 L534.8,397.0 L537.1,396.2 L539.5,395.4 L541.8,394.7 L544.2,393.9 L546.5,393.1 L548.9,392.2 L551.2,391.4 L553.5,390.6 L555.9,389.8 L558.2,389.0 L560.6,388.1 L562.9,387.3 L565.3,386.4 L567.6,385.6 L569.9,384.7 L572.3,383.9 L574.6,383.0 L577.0,382.1 L579.3,381.3 L581.7,380.4 L584.0,379.5 L586.4,378.6 L588.7,377.7 L591.0,376.8 L593.4,375.9 L595.7,375.0 L598.1,374.1 L600.4,373.2 L602.8,372.3 L605.1,371.4 L607.4,370.5 L609.8,369.6 L612.1,368.7 L614.5,367.7 L616.8,366.8 L619.2,365.9 L621.5,364.9 L623.8,364.0 L626.2,363.1 L628.5,362.1 L630.9,361.2 L633.2,360.3 L635.6,359.3 L637.9,358.4 L640.2,357.4 L642.6,356.5 L644.9,355.6 L647.3,354.6 L649.6,353.7 L652.0,352.7 L654.3,351.8 L656.6,350.8 L659.0,349.9 L661.3,348.9 L663.7,348.0 L666.0,347.0 L668.4,346.1 L670.7,345.1 L673.0,344.2 L675.4,343.2 L677.7,342.3 L680.1,341.3 L682.4,340.4 L684.8,339.4 L687.1,338.5 L689.5,337.6 L691.8,336.6 L694.1,335.7 L696.5,334.7 L698.8,333.8 L701.2,332.9 L703.5,331.9 L705.9,331.0 L708.2,330.1 L710.5,329.2 L712.9,328.2 L715.2,327.3 L717.6,326.4 L719.9,325.5 L722.3,324.6 L724.6,323.7 L726.9,322.8 L729.3,321.9 L731.6,321.0 L734.0,320.1 L736.3,319.2 L738.7,318.3 L741.0,317.4" fill="none" stroke="#ff0000" stroke-width="3.6" stroke-dasharray="3.6,5.1" stroke-dashoffset="0" clip-path="url(#cd)"/>
<path d="M415.3,426.8 L417.6,426.6 L420.0,426.3 L422.3,426.0 L424.7,425.8 L427.0,425.5 L429.4,425.2 L431.7,424.8 L434.0,424.5 L436.4,424.1 L438.7,423.8 L441.1,423.4 L443.4,423.0 L445.8,422.6 L448.1,422.2 L450.4,421.7 L452.8,421.3 L455.1,420.8 L457.5,420.4 L459.8,419.9 L462.2,419.4 L464.5,418.9 L466.8,418.4 L469.2,417.8 L471.5,417.3 L473.9,416.7 L476.2,416.2 L478.6,415.6 L480.9,415.0 L483.3,414.4 L485.6,413.8 L487.9,413.1 L490.3,412.5 L492.6,411.9 L495.0,411.2 L497.3,410.5 L499.7,409.9 L502.0,409.2 L504.3,408.5 L506.7,407.8 L509.0,407.0 L511.4,406.3 L513.7,405.6 L516.1,404.8 L518.4,404.1 L520.7,403.3 L523.1,402.5 L525.4,401.7 L527.8,401.0 L530.1,400.2 L532.5,399.3 L534.8,398.5 L537.1,397.7 L539.5,396.9 L541.8,396.0 L544.2,395.2 L546.5,394.3 L548.9,393.4 L551.2,392.6 L553.5,391.7 L555.9,390.8 L558.2,389.9 L560.6,389.0 L562.9,388.1 L565.3,387.2 L567.6,386.2 L569.9,385.3 L572.3,384.4 L574.6,383.4 L577.0,382.5 L579.3,381.5 L581.7,380.5 L584.0,379.6 L586.4,378.6 L588.7,377.6 L591.0,376.6 L593.4,375.6 L595.7,374.6 L598.1,373.6 L600.4,372.6 L602.8,371.6 L605.1,370.6 L607.4,369.6 L609.8,368.6 L612.1,367.5 L614.5,366.5 L616.8,365.5 L619.2,364.4 L621.5,363.4 L623.8,362.3 L626.2,361.3 L628.5,360.2 L630.9,359.2 L633.2,358.1 L635.6,357.0 L637.9,356.0 L640.2,354.9 L642.6,353.8 L644.9,352.7 L647.3,351.7 L649.6,350.6 L652.0,349.5 L654.3,348.4 L656.6,347.3 L659.0,346.2 L661.3,345.1 L663.7,344.0 L666.0,342.9 L668.4,341.9 L670.7,340.8 L673.0,339.7 L675.4,338.6 L677.7,337.5 L680.1,336.4 L682.4,335.3 L684.8,334.2 L687.1,333.1 L689.5,332.0 L691.8,330.9 L694.1,329.8 L696.5,328.7 L698.8,327.6 L701.2,326.5 L703.5,325.4 L705.9,324.3 L708.2,323.2 L710.5,322.1 L712.9,321.0 L715.2,319.9 L717.6,318.8 L719.9,317.7 L722.3,316.6 L724.6,315.5 L726.9,314.4 L729.3,313.3 L731.6,312.3 L734.0,311.2 L736.3,310.1 L738.7,309.0 L741.0,308.0" fill="none" stroke="#ff0000" stroke-width="3.6" stroke-dasharray="21,6.6,3.6,6.6" stroke-dashoffset="13.4" clip-path="url(#cd)"/>
<path d="M415.3,484.4 L417.6,484.2 L420.0,484.0 L422.3,483.7 L424.7,483.5 L427.0,483.3 L429.4,483.2 L431.7,483.0 L434.0,482.8 L436.4,482.7 L438.7,482.5 L441.1,482.3 L443.4,482.2 L445.8,482.0 L448.1,481.9 L450.4,481.7 L452.8,481.5 L455.1,481.4 L457.5,481.2 L459.8,481.0 L462.2,480.8 L464.5,480.6 L466.8,480.4 L469.2,480.2 L471.5,479.9 L473.9,479.7 L476.2,479.4 L478.6,479.1 L480.9,478.8 L483.3,478.5 L485.6,478.1 L487.9,477.8 L490.3,477.4 L492.6,476.9 L495.0,476.5 L497.3,476.0 L499.7,475.5 L502.0,475.0 L504.3,474.4 L506.7,473.8 L509.0,473.2 L511.4,472.5 L513.7,471.8 L516.1,471.0 L518.4,470.2 L520.7,469.4 L523.1,468.5 L525.4,467.6 L527.8,466.6 L530.1,465.4 L532.5,464.2 L534.8,462.8 L537.1,461.3 L539.5,459.6 L541.8,457.7 L544.2,455.7 L546.5,453.6 L548.9,451.3 L551.2,449.0 L553.5,446.6 L555.9,444.2 L558.2,441.6 L560.6,439.0 L562.9,436.4 L565.3,433.7 L567.6,431.0 L569.9,428.3 L572.3,425.5 L574.6,422.8 L577.0,420.0 L579.3,417.3 L581.7,414.6 L584.0,411.9 L586.4,409.3 L588.7,406.7 L591.0,404.2 L593.4,401.7 L595.7,399.3 L598.1,397.0 L600.4,394.8 L602.8,392.6 L605.1,390.6 L607.4,388.6 L609.8,386.6 L612.1,384.8 L614.5,383.0 L616.8,381.3 L619.2,379.6 L621.5,378.1 L623.8,376.5 L626.2,375.0 L628.5,373.6 L630.9,372.2 L633.2,370.9 L635.6,369.6 L637.9,368.3 L640.2,367.1 L642.6,365.9 L644.9,364.7 L647.3,363.6 L649.6,362.4 L652.0,361.3 L654.3,360.3 L656.6,359.2 L659.0,358.1 L661.3,357.1 L663.7,356.0 L666.0,355.0 L668.4,354.0 L670.7,352.9 L673.0,351.9 L675.4,350.8 L677.7,349.7 L680.1,348.7 L682.4,347.6 L684.8,346.4 L687.1,345.3 L689.5,344.2 L691.8,343.0 L694.1,341.9 L696.5,340.7 L698.8,339.5 L701.2,338.4 L703.5,337.2 L705.9,336.0 L708.2,334.8 L710.5,333.6 L712.9,332.4 L715.2,331.2 L717.6,329.9 L719.9,328.7 L722.3,327.5 L724.6,326.3 L726.9,325.1 L729.3,323.9 L731.6,322.6 L734.0,321.4 L736.3,320.2 L738.7,319.0 L741.0,317.8" fill="none" stroke="#0000ff" stroke-width="3.6" stroke-dasharray="3.6,5.1" stroke-dashoffset="0" clip-path="url(#cd)"/>
<path d="M415.3,486.6 L417.6,486.8 L420.0,486.9 L422.3,487.0 L424.7,487.0 L427.0,487.0 L429.4,486.9 L431.7,486.8 L434.0,486.6 L436.4,486.4 L438.7,486.1 L441.1,485.8 L443.4,485.5 L445.8,485.2 L448.1,484.8 L450.4,484.5 L452.8,484.1 L455.1,483.7 L457.5,483.3 L459.8,482.9 L462.2,482.5 L464.5,482.2 L466.8,481.8 L469.2,481.4 L471.5,481.1 L473.9,480.8 L476.2,480.4 L478.6,480.1 L480.9,479.8 L483.3,479.5 L485.6,479.2 L487.9,478.9 L490.3,478.6 L492.6,478.3 L495.0,477.9 L497.3,477.6 L499.7,477.2 L502.0,476.9 L504.3,476.5 L506.7,476.1 L509.0,475.7 L511.4,475.3 L513.7,474.8 L516.1,474.4 L518.4,473.9 L520.7,473.3 L523.1,472.8 L525.4,472.2 L527.8,471.5 L530.1,470.9 L532.5,470.2 L534.8,469.4 L537.1,468.6 L539.5,467.8 L541.8,466.9 L544.2,465.9 L546.5,464.9 L548.9,463.8 L551.2,462.6 L553.5,461.4 L555.9,460.1 L558.2,458.7 L560.6,457.2 L562.9,455.6 L565.3,453.9 L567.6,452.1 L569.9,450.2 L572.3,448.2 L574.6,446.1 L577.0,443.9 L579.3,441.6 L581.7,439.1 L584.0,436.5 L586.4,433.8 L588.7,430.9 L591.0,427.9 L593.4,424.8 L595.7,421.5 L598.1,418.2 L600.4,414.7 L602.8,411.3 L605.1,407.8 L607.4,404.3 L609.8,401.0 L612.1,397.7 L614.5,394.5 L616.8,391.5 L619.2,388.7 L621.5,386.0 L623.8,383.4 L626.2,380.9 L628.5,378.6 L630.9,376.3 L633.2,374.2 L635.6,372.1 L637.9,370.2 L640.2,368.3 L642.6,366.4 L644.9,364.6 L647.3,362.9 L649.6,361.2 L652.0,359.5 L654.3,357.9 L656.6,356.4 L659.0,354.8 L661.3,353.3 L663.7,351.9 L666.0,350.5 L668.4,349.1 L670.7,347.7 L673.0,346.4 L675.4,345.1 L677.7,343.8 L680.1,342.5 L682.4,341.3 L684.8,340.0 L687.1,338.8 L689.5,337.6 L691.8,336.4 L694.1,335.2 L696.5,334.0 L698.8,332.8 L701.2,331.6 L703.5,330.4 L705.9,329.2 L708.2,328.0 L710.5,326.8 L712.9,325.6 L715.2,324.4 L717.6,323.1 L719.9,321.8 L722.3,320.5 L724.6,319.2 L726.9,317.9 L729.3,316.5 L731.6,315.1 L734.0,313.7 L736.3,312.2 L738.7,310.7 L741.0,309.2" fill="none" stroke="#0000ff" stroke-width="3.6" stroke-dasharray="21,6.6,3.6,6.6" stroke-dashoffset="14" clip-path="url(#cd)"/>
<rect x="90.0" y="62.5" width="650.5" height="455.0" fill="none" stroke="#000" stroke-width="1.45"/>
<line x1="415.30" y1="62.50" x2="415.30" y2="517.50" stroke="#000" stroke-width="1.8"/>
<line x1="90.00" y1="290.00" x2="740.50" y2="290.00" stroke="#000" stroke-width="1.45"/>
<line x1="95.96" y1="62.50" x2="95.96" y2="66.30" stroke="#000" stroke-width="1.4"/>
<line x1="104.51" y1="62.50" x2="104.51" y2="66.30" stroke="#000" stroke-width="1.4"/>
<line x1="113.05" y1="62.50" x2="113.05" y2="66.30" stroke="#000" stroke-width="1.4"/>
<line x1="121.60" y1="62.50" x2="121.60" y2="70.00" stroke="#000" stroke-width="1.4"/>
<line x1="130.15" y1="62.50" x2="130.15" y2="66.30" stroke="#000" stroke-width="1.4"/>
<line x1="138.69" y1="62.50" x2="138.69" y2="66.30" stroke="#000" stroke-width="1.4"/>
<line x1="147.24" y1="62.50" x2="147.24" y2="66.30" stroke="#000" stroke-width="1.4"/>
<line x1="155.79" y1="62.50" x2="155.79" y2="66.30" stroke="#000" stroke-width="1.4"/>
<line x1="164.34" y1="62.50" x2="164.34" y2="70.00" stroke="#000" stroke-width="1.4"/>
<line x1="172.88" y1="62.50" x2="172.88" y2="66.30" stroke="#000" stroke-width="1.4"/>
<line x1="181.43" y1="62.50" x2="181.43" y2="66.30" stroke="#000" stroke-width="1.4"/>
<line x1="189.98" y1="62.50" x2="189.98" y2="66.30" stroke="#000" stroke-width="1.4"/>
<line x1="198.52" y1="62.50" x2="198.52" y2="66.30" stroke="#000" stroke-width="1.4"/>
<line x1="207.07" y1="62.50" x2="207.07" y2="70.00" stroke="#000" stroke-width="1.4"/>
<line x1="215.62" y1="62.50" x2="215.62" y2="66.30" stroke="#000" stroke-width="1.4"/>
<line x1="224.17" y1="62.50" x2="224.17" y2="66.30" stroke="#000" stroke-width="1.4"/>
<line x1="232.71" y1="62.50" x2="232.71" y2="66.30" stroke="#000" stroke-width="1.4"/>
<line x1="241.26" y1="62.50" x2="241.26" y2="66.30" stroke="#000" stroke-width="1.4"/>
<line x1="249.81" y1="62.50" x2="249.81" y2="70.00" stroke="#000" stroke-width="1.4"/>
<line x1="258.36" y1="62.50" x2="258.36" y2="66.30" stroke="#000" stroke-width="1.4"/>
<line x1="266.90" y1="62.50" x2="266.90" y2="66.30" stroke="#000" stroke-width="1.4"/>
<line x1="275.45" y1="62.50" x2="275.45" y2="66.30" stroke="#000" stroke-width="1.4"/>
<line x1="284.00" y1="62.50" x2="284.00" y2="66.30" stroke="#000" stroke-width="1.4"/>
<line x1="292.54" y1="62.50" x2="292.54" y2="70.00" stroke="#000" stroke-width="1.4"/>
<line x1="301.09" y1="62.50" x2="301.09" y2="66.30" stroke="#000" stroke-width="1.4"/>
<line x1="309.64" y1="62.50" x2="309.64" y2="66.30" stroke="#000" stroke-width="1.4"/>
<line x1="318.19" y1="62.50" x2="318.19" y2="66.30" stroke="#000" stroke-width="1.4"/>
<line x1="326.73" y1="62.50" x2="326.73" y2="66.30" stroke="#000" stroke-width="1.4"/>
<line x1="335.28" y1="62.50" x2="335.28" y2="70.00" stroke="#000" stroke-width="1.4"/>
<line x1="343.83" y1="62.50" x2="343.83" y2="66.30" stroke="#000" stroke-width="1.4"/>
<line x1="352.37" y1="62.50" x2="352.37" y2="66.30" stroke="#000" stroke-width="1.4"/>
<line x1="360.92" y1="62.50" x2="360.92" y2="66.30" stroke="#000" stroke-width="1.4"/>
<line x1="369.47" y1="62.50" x2="369.47" y2="66.30" stroke="#000" stroke-width="1.4"/>
<line x1="378.02" y1="62.50" x2="378.02" y2="70.00" stroke="#000" stroke-width="1.4"/>
<line x1="386.56" y1="62.50" x2="386.56" y2="66.30" stroke="#000" stroke-width="1.4"/>
<line x1="395.11" y1="62.50" x2="395.11" y2="66.30" stroke="#000" stroke-width="1.4"/>
<line x1="403.66" y1="62.50" x2="403.66" y2="66.30" stroke="#000" stroke-width="1.4"/>
<line x1="412.20" y1="62.50" x2="412.20" y2="66.30" stroke="#000" stroke-width="1.4"/>
<line x1="421.26" y1="62.50" x2="421.26" y2="66.30" stroke="#000" stroke-width="1.4"/>
<line x1="429.81" y1="62.50" x2="429.81" y2="66.30" stroke="#000" stroke-width="1.4"/>
<line x1="438.35" y1="62.50" x2="438.35" y2="66.30" stroke="#000" stroke-width="1.4"/>
<line x1="446.90" y1="62.50" x2="446.90" y2="70.00" stroke="#000" stroke-width="1.4"/>
<line x1="455.45" y1="62.50" x2="455.45" y2="66.30" stroke="#000" stroke-width="1.4"/>
<line x1="463.99" y1="62.50" x2="463.99" y2="66.30" stroke="#000" stroke-width="1.4"/>
<line x1="472.54" y1="62.50" x2="472.54" y2="66.30" stroke="#000" stroke-width="1.4"/>
<line x1="481.09" y1="62.50" x2="481.09" y2="66.30" stroke="#000" stroke-width="1.4"/>
<line x1="489.64" y1="62.50" x2="489.64" y2="70.00" stroke="#000" stroke-width="1.4"/>
<line x1="498.18" y1="62.50" x2="498.18" y2="66.30" stroke="#000" stroke-width="1.4"/>
<line x1="506.73" y1="62.50" x2="506.73" y2="66.30" stroke="#000" stroke-width="1.4"/>
<line x1="515.28" y1="62.50" x2="515.28" y2="66.30" stroke="#000" stroke-width="1.4"/>
<line x1="523.82" y1="62.50" x2="523.82" y2="66.30" stroke="#000" stroke-width="1.4"/>
<line x1="532.37" y1="62.50" x2="532.37" y2="70.00" stroke="#000" stroke-width="1.4"/>
<line x1="540.92" y1="62.50" x2="540.92" y2="66.30" stroke="#000" stroke-width="1.4"/>
<line x1="549.47" y1="62.50" x2="549.47" y2="66.30" stroke="#000" stroke-width="1.4"/>
<line x1="558.01" y1="62.50" x2="558.01" y2="66.30" stroke="#000" stroke-width="1.4"/>
<line x1="566.56" y1="62.50" x2="566.56" y2="66.30" stroke="#000" stroke-width="1.4"/>
<line x1="575.11" y1="62.50" x2="575.11" y2="70.00" stroke="#000" stroke-width="1.4"/>
<line x1="583.66" y1="62.50" x2="583.66" y2="66.30" stroke="#000" stroke-width="1.4"/>
<line x1="592.20" y1="62.50" x2="592.20" y2="66.30" stroke="#000" stroke-width="1.4"/>
<line x1="600.75" y1="62.50" x2="600.75" y2="66.30" stroke="#000" stroke-width="1.4"/>
<line x1="609.30" y1="62.50" x2="609.30" y2="66.30" stroke="#000" stroke-width="1.4"/>
<line x1="617.84" y1="62.50" x2="617.84" y2="70.00" stroke="#000" stroke-width="1.4"/>
<line x1="626.39" y1="62.50" x2="626.39" y2="66.30" stroke="#000" stroke-width="1.4"/>
<line x1="634.94" y1="62.50" x2="634.94" y2="66.30" stroke="#000" stroke-width="1.4"/>
<line x1="643.49" y1="62.50" x2="643.49" y2="66.30" stroke="#000" stroke-width="1.4"/>
<line x1="652.03" y1="62.50" x2="652.03" y2="66.30" stroke="#000" stroke-width="1.4"/>
<line x1="660.58" y1="62.50" x2="660.58" y2="70.00" stroke="#000" stroke-width="1.4"/>
<line x1="669.13" y1="62.50" x2="669.13" y2="66.30" stroke="#000" stroke-width="1.4"/>
<line x1="677.67" y1="62.50" x2="677.67" y2="66.30" stroke="#000" stroke-width="1.4"/>
<line x1="686.22" y1="62.50" x2="686.22" y2="66.30" stroke="#000" stroke-width="1.4"/>
<line x1="694.77" y1="62.50" x2="694.77" y2="66.30" stroke="#000" stroke-width="1.4"/>
<line x1="703.32" y1="62.50" x2="703.32" y2="70.00" stroke="#000" stroke-width="1.4"/>
<line x1="711.86" y1="62.50" x2="711.86" y2="66.30" stroke="#000" stroke-width="1.4"/>
<line x1="720.41" y1="62.50" x2="720.41" y2="66.30" stroke="#000" stroke-width="1.4"/>
<line x1="728.96" y1="62.50" x2="728.96" y2="66.30" stroke="#000" stroke-width="1.4"/>
<line x1="737.50" y1="62.50" x2="737.50" y2="66.30" stroke="#000" stroke-width="1.4"/>
<line x1="95.96" y1="290.00" x2="95.96" y2="293.80" stroke="#000" stroke-width="1.4"/>
<line x1="95.96" y1="290.00" x2="95.96" y2="286.20" stroke="#000" stroke-width="1.4"/>
<line x1="104.51" y1="290.00" x2="104.51" y2="293.80" stroke="#000" stroke-width="1.4"/>
<line x1="104.51" y1="290.00" x2="104.51" y2="286.20" stroke="#000" stroke-width="1.4"/>
<line x1="113.05" y1="290.00" x2="113.05" y2="293.80" stroke="#000" stroke-width="1.4"/>
<line x1="113.05" y1="290.00" x2="113.05" y2="286.20" stroke="#000" stroke-width="1.4"/>
<line x1="121.60" y1="290.00" x2="121.60" y2="297.50" stroke="#000" stroke-width="1.4"/>
<line x1="121.60" y1="290.00" x2="121.60" y2="282.50" stroke="#000" stroke-width="1.4"/>
<line x1="130.15" y1="290.00" x2="130.15" y2="293.80" stroke="#000" stroke-width="1.4"/>
<line x1="130.15" y1="290.00" x2="130.15" y2="286.20" stroke="#000" stroke-width="1.4"/>
<line x1="138.69" y1="290.00" x2="138.69" y2="293.80" stroke="#000" stroke-width="1.4"/>
<line x1="138.69" y1="290.00" x2="138.69" y2="286.20" stroke="#000" stroke-width="1.4"/>
<line x1="147.24" y1="290.00" x2="147.24" y2="293.80" stroke="#000" stroke-width="1.4"/>
<line x1="147.24" y1="290.00" x2="147.24" y2="286.20" stroke="#000" stroke-width="1.4"/>
<line x1="155.79" y1="290.00" x2="155.79" y2="293.80" stroke="#000" stroke-width="1.4"/>
<line x1="155.79" y1="290.00" x2="155.79" y2="286.20" stroke="#000" stroke-width="1.4"/>
<line x1="164.34" y1="290.00" x2="164.34" y2="297.50" stroke="#000" stroke-width="1.4"/>
<line x1="164.34" y1="290.00" x2="164.34" y2="282.50" stroke="#000" stroke-width="1.4"/>
<line x1="172.88" y1="290.00" x2="172.88" y2="293.80" stroke="#000" stroke-width="1.4"/>
<line x1="172.88" y1="290.00" x2="172.88" y2="286.20" stroke="#000" stroke-width="1.4"/>
<line x1="181.43" y1="290.00" x2="181.43" y2="293.80" stroke="#000" stroke-width="1.4"/>
<line x1="181.43" y1="290.00" x2="181.43" y2="286.20" stroke="#000" stroke-width="1.4"/>
<line x1="189.98" y1="290.00" x2="189.98" y2="293.80" stroke="#000" stroke-width="1.4"/>
<line x1="189.98" y1="290.00" x2="189.98" y2="286.20" stroke="#000" stroke-width="1.4"/>
<line x1="198.52" y1="290.00" x2="198.52" y2="293.80" stroke="#000" stroke-width="1.4"/>
<line x1="198.52" y1="290.00" x2="198.52" y2="286.20" stroke="#000" stroke-width="1.4"/>
<line x1="207.07" y1="290.00" x2="207.07" y2="297.50" stroke="#000" stroke-width="1.4"/>
<line x1="207.07" y1="290.00" x2="207.07" y2="282.50" stroke="#000" stroke-width="1.4"/>
<line x1="215.62" y1="290.00" x2="215.62" y2="293.80" stroke="#000" stroke-width="1.4"/>
<line x1="215.62" y1="290.00" x2="215.62" y2="286.20" stroke="#000" stroke-width="1.4"/>
<line x1="224.17" y1="290.00" x2="224.17" y2="293.80" stroke="#000" stroke-width="1.4"/>
<line x1="224.17" y1="290.00" x2="224.17" y2="286.20" stroke="#000" stroke-width="1.4"/>
<line x1="232.71" y1="290.00" x2="232.71" y2="293.80" stroke="#000" stroke-width="1.4"/>
<line x1="232.71" y1="290.00" x2="232.71" y2="286.20" stroke="#000" stroke-width="1.4"/>
<line x1="241.26" y1="290.00" x2="241.26" y2="293.80" stroke="#000" stroke-width="1.4"/>
<line x1="241.26" y1="290.00" x2="241.26" y2="286.20" stroke="#000" stroke-width="1.4"/>
<line x1="249.81" y1="290.00" x2="249.81" y2="297.50" stroke="#000" stroke-width="1.4"/>
<line x1="249.81" y1="290.00" x2="249.81" y2="282.50" stroke="#000" stroke-width="1.4"/>
<line x1="258.36" y1="290.00" x2="258.36" y2="293.80" stroke="#000" stroke-width="1.4"/>
<line x1="258.36" y1="290.00" x2="258.36" y2="286.20" stroke="#000" stroke-width="1.4"/>
<line x1="266.90" y1="290.00" x2="266.90" y2="293.80" stroke="#000" stroke-width="1.4"/>
<line x1="266.90" y1="290.00" x2="266.90" y2="286.20" stroke="#000" stroke-width="1.4"/>
<line x1="275.45" y1="290.00" x2="275.45" y2="293.80" stroke="#000" stroke-width="1.4"/>
<line x1="275.45" y1="290.00" x2="275.45" y2="286.20" stroke="#000" stroke-width="1.4"/>
<line x1="284.00" y1="290.00" x2="284.00" y2="293.80" stroke="#000" stroke-width="1.4"/>
<line x1="284.00" y1="290.00" x2="284.00" y2="286.20" stroke="#000" stroke-width="1.4"/>
<line x1="292.54" y1="290.00" x2="292.54" y2="297.50" stroke="#000" stroke-width="1.4"/>
<line x1="292.54" y1="290.00" x2="292.54" y2="282.50" stroke="#000" stroke-width="1.4"/>
<line x1="301.09" y1="290.00" x2="301.09" y2="293.80" stroke="#000" stroke-width="1.4"/>
<line x1="301.09" y1="290.00" x2="301.09" y2="286.20" stroke="#000" stroke-width="1.4"/>
<line x1="309.64" y1="290.00" x2="309.64" y2="293.80" stroke="#000" stroke-width="1.4"/>
<line x1="309.64" y1="290.00" x2="309.64" y2="286.20" stroke="#000" stroke-width="1.4"/>
<line x1="318.19" y1="290.00" x2="318.19" y2="293.80" stroke="#000" stroke-width="1.4"/>
<line x1="318.19" y1="290.00" x2="318.19" y2="286.20" stroke="#000" stroke-width="1.4"/>
<line x1="326.73" y1="290.00" x2="326.73" y2="293.80" stroke="#000" stroke-width="1.4"/>
<line x1="326.73" y1="290.00" x2="326.73" y2="286.20" stroke="#000" stroke-width="1.4"/>
<line x1="335.28" y1="290.00" x2="335.28" y2="297.50" stroke="#000" stroke-width="1.4"/>
<line x1="335.28" y1="290.00" x2="335.28" y2="282.50" stroke="#000" stroke-width="1.4"/>
<line x1="343.83" y1="290.00" x2="343.83" y2="293.80" stroke="#000" stroke-width="1.4"/>
<line x1="343.83" y1="290.00" x2="343.83" y2="286.20" stroke="#000" stroke-width="1.4"/>
<line x1="352.37" y1="290.00" x2="352.37" y2="293.80" stroke="#000" stroke-width="1.4"/>
<line x1="352.37" y1="290.00" x2="352.37" y2="286.20" stroke="#000" stroke-width="1.4"/>
<line x1="360.92" y1="290.00" x2="360.92" y2="293.80" stroke="#000" stroke-width="1.4"/>
<line x1="360.92" y1="290.00" x2="360.92" y2="286.20" stroke="#000" stroke-width="1.4"/>
<line x1="369.47" y1="290.00" x2="369.47" y2="293.80" stroke="#000" stroke-width="1.4"/>
<line x1="369.47" y1="290.00" x2="369.47" y2="286.20" stroke="#000" stroke-width="1.4"/>
<line x1="378.02" y1="290.00" x2="378.02" y2="297.50" stroke="#000" stroke-width="1.4"/>
<line x1="378.02" y1="290.00" x2="378.02" y2="282.50" stroke="#000" stroke-width="1.4"/>
<line x1="386.56" y1="290.00" x2="386.56" y2="293.80" stroke="#000" stroke-width="1.4"/>
<line x1="386.56" y1="290.00" x2="386.56" y2="286.20" stroke="#000" stroke-width="1.4"/>
<line x1="395.11" y1="290.00" x2="395.11" y2="293.80" stroke="#000" stroke-width="1.4"/>
<line x1="395.11" y1="290.00" x2="395.11" y2="286.20" stroke="#000" stroke-width="1.4"/>
<line x1="403.66" y1="290.00" x2="403.66" y2="293.80" stroke="#000" stroke-width="1.4"/>
<line x1="403.66" y1="290.00" x2="403.66" y2="286.20" stroke="#000" stroke-width="1.4"/>
<line x1="412.20" y1="290.00" x2="412.20" y2="293.80" stroke="#000" stroke-width="1.4"/>
<line x1="412.20" y1="290.00" x2="412.20" y2="286.20" stroke="#000" stroke-width="1.4"/>
<line x1="421.26" y1="290.00" x2="421.26" y2="293.80" stroke="#000" stroke-width="1.4"/>
<line x1="421.26" y1="290.00" x2="421.26" y2="286.20" stroke="#000" stroke-width="1.4"/>
<line x1="429.81" y1="290.00" x2="429.81" y2="293.80" stroke="#000" stroke-width="1.4"/>
<line x1="429.81" y1="290.00" x2="429.81" y2="286.20" stroke="#000" stroke-width="1.4"/>
<line x1="438.35" y1="290.00" x2="438.35" y2="293.80" stroke="#000" stroke-width="1.4"/>
<line x1="438.35" y1="290.00" x2="438.35" y2="286.20" stroke="#000" stroke-width="1.4"/>
<line x1="446.90" y1="290.00" x2="446.90" y2="297.50" stroke="#000" stroke-width="1.4"/>
<line x1="446.90" y1="290.00" x2="446.90" y2="282.50" stroke="#000" stroke-width="1.4"/>
<line x1="455.45" y1="290.00" x2="455.45" y2="293.80" stroke="#000" stroke-width="1.4"/>
<line x1="455.45" y1="290.00" x2="455.45" y2="286.20" stroke="#000" stroke-width="1.4"/>
<line x1="463.99" y1="290.00" x2="463.99" y2="293.80" stroke="#000" stroke-width="1.4"/>
<line x1="463.99" y1="290.00" x2="463.99" y2="286.20" stroke="#000" stroke-width="1.4"/>
<line x1="472.54" y1="290.00" x2="472.54" y2="293.80" stroke="#000" stroke-width="1.4"/>
<line x1="472.54" y1="290.00" x2="472.54" y2="286.20" stroke="#000" stroke-width="1.4"/>
<line x1="481.09" y1="290.00" x2="481.09" y2="293.80" stroke="#000" stroke-width="1.4"/>
<line x1="481.09" y1="290.00" x2="481.09" y2="286.20" stroke="#000" stroke-width="1.4"/>
<line x1="489.64" y1="290.00" x2="489.64" y2="297.50" stroke="#000" stroke-width="1.4"/>
<line x1="489.64" y1="290.00" x2="489.64" y2="282.50" stroke="#000" stroke-width="1.4"/>
<line x1="498.18" y1="290.00" x2="498.18" y2="293.80" stroke="#000" stroke-width="1.4"/>
<line x1="498.18" y1="290.00" x2="498.18" y2="286.20" stroke="#000" stroke-width="1.4"/>
<line x1="506.73" y1="290.00" x2="506.73" y2="293.80" stroke="#000" stroke-width="1.4"/>
<line x1="506.73" y1="290.00" x2="506.73" y2="286.20" stroke="#000" stroke-width="1.4"/>
<line x1="515.28" y1="290.00" x2="515.28" y2="293.80" stroke="#000" stroke-width="1.4"/>
<line x1="515.28" y1="290.00" x2="515.28" y2="286.20" stroke="#000" stroke-width="1.4"/>
<line x1="523.82" y1="290.00" x2="523.82" y2="293.80" stroke="#000" stroke-width="1.4"/>
<line x1="523.82" y1="290.00" x2="523.82" y2="286.20" stroke="#000" stroke-width="1.4"/>
<line x1="532.37" y1="290.00" x2="532.37" y2="297.50" stroke="#000" stroke-width="1.4"/>
<line x1="532.37" y1="290.00" x2="532.37" y2="282.50" stroke="#000" stroke-width="1.4"/>
<line x1="540.92" y1="290.00" x2="540.92" y2="293.80" stroke="#000" stroke-width="1.4"/>
<line x1="540.92" y1="290.00" x2="540.92" y2="286.20" stroke="#000" stroke-width="1.4"/>
<line x1="549.47" y1="290.00" x2="549.47" y2="293.80" stroke="#000" stroke-width="1.4"/>
<line x1="549.47" y1="290.00" x2="549.47" y2="286.20" stroke="#000" stroke-width="1.4"/>
<line x1="558.01" y1="290.00" x2="558.01" y2="293.80" stroke="#000" stroke-width="1.4"/>
<line x1="558.01" y1="290.00" x2="558.01" y2="286.20" stroke="#000" stroke-width="1.4"/>
<line x1="566.56" y1="290.00" x2="566.56" y2="293.80" stroke="#000" stroke-width="1.4"/>
<line x1="566.56" y1="290.00" x2="566.56" y2="286.20" stroke="#000" stroke-width="1.4"/>
<line x1="575.11" y1="290.00" x2="575.11" y2="297.50" stroke="#000" stroke-width="1.4"/>
<line x1="575.11" y1="290.00" x2="575.11" y2="282.50" stroke="#000" stroke-width="1.4"/>
<line x1="583.66" y1="290.00" x2="583.66" y2="293.80" stroke="#000" stroke-width="1.4"/>
<line x1="583.66" y1="290.00" x2="583.66" y2="286.20" stroke="#000" stroke-width="1.4"/>
<line x1="592.20" y1="290.00" x2="592.20" y2="293.80" stroke="#000" stroke-width="1.4"/>
<line x1="592.20" y1="290.00" x2="592.20" y2="286.20" stroke="#000" stroke-width="1.4"/>
<line x1="600.75" y1="290.00" x2="600.75" y2="293.80" stroke="#000" stroke-width="1.4"/>
<line x1="600.75" y1="290.00" x2="600.75" y2="286.20" stroke="#000" stroke-width="1.4"/>
<line x1="609.30" y1="290.00" x2="609.30" y2="293.80" stroke="#000" stroke-width="1.4"/>
<line x1="609.30" y1="290.00" x2="609.30" y2="286.20" stroke="#000" stroke-width="1.4"/>
<line x1="617.84" y1="290.00" x2="617.84" y2="297.50" stroke="#000" stroke-width="1.4"/>
<line x1="617.84" y1="290.00" x2="617.84" y2="282.50" stroke="#000" stroke-width="1.4"/>
<line x1="626.39" y1="290.00" x2="626.39" y2="293.80" stroke="#000" stroke-width="1.4"/>
<line x1="626.39" y1="290.00" x2="626.39" y2="286.20" stroke="#000" stroke-width="1.4"/>
<line x1="634.94" y1="290.00" x2="634.94" y2="293.80" stroke="#000" stroke-width="1.4"/>
<line x1="634.94" y1="290.00" x2="634.94" y2="286.20" stroke="#000" stroke-width="1.4"/>
<line x1="643.49" y1="290.00" x2="643.49" y2="293.80" stroke="#000" stroke-width="1.4"/>
<line x1="643.49" y1="290.00" x2="643.49" y2="286.20" stroke="#000" stroke-width="1.4"/>
<line x1="652.03" y1="290.00" x2="652.03" y2="293.80" stroke="#000" stroke-width="1.4"/>
<line x1="652.03" y1="290.00" x2="652.03" y2="286.20" stroke="#000" stroke-width="1.4"/>
<line x1="660.58" y1="290.00" x2="660.58" y2="297.50" stroke="#000" stroke-width="1.4"/>
<line x1="660.58" y1="290.00" x2="660.58" y2="282.50" stroke="#000" stroke-width="1.4"/>
<line x1="669.13" y1="290.00" x2="669.13" y2="293.80" stroke="#000" stroke-width="1.4"/>
<line x1="669.13" y1="290.00" x2="669.13" y2="286.20" stroke="#000" stroke-width="1.4"/>
<line x1="677.67" y1="290.00" x2="677.67" y2="293.80" stroke="#000" stroke-width="1.4"/>
<line x1="677.67" y1="290.00" x2="677.67" y2="286.20" stroke="#000" stroke-width="1.4"/>
<line x1="686.22" y1="290.00" x2="686.22" y2="293.80" stroke="#000" stroke-width="1.4"/>
<line x1="686.22" y1="290.00" x2="686.22" y2="286.20" stroke="#000" stroke-width="1.4"/>
<line x1="694.77" y1="290.00" x2="694.77" y2="293.80" stroke="#000" stroke-width="1.4"/>
<line x1="694.77" y1="290.00" x2="694.77" y2="286.20" stroke="#000" stroke-width="1.4"/>
<line x1="703.32" y1="290.00" x2="703.32" y2="297.50" stroke="#000" stroke-width="1.4"/>
<line x1="703.32" y1="290.00" x2="703.32" y2="282.50" stroke="#000" stroke-width="1.4"/>
<line x1="711.86" y1="290.00" x2="711.86" y2="293.80" stroke="#000" stroke-width="1.4"/>
<line x1="711.86" y1="290.00" x2="711.86" y2="286.20" stroke="#000" stroke-width="1.4"/>
<line x1="720.41" y1="290.00" x2="720.41" y2="293.80" stroke="#000" stroke-width="1.4"/>
<line x1="720.41" y1="290.00" x2="720.41" y2="286.20" stroke="#000" stroke-width="1.4"/>
<line x1="728.96" y1="290.00" x2="728.96" y2="293.80" stroke="#000" stroke-width="1.4"/>
<line x1="728.96" y1="290.00" x2="728.96" y2="286.20" stroke="#000" stroke-width="1.4"/>
<line x1="737.50" y1="290.00" x2="737.50" y2="293.80" stroke="#000" stroke-width="1.4"/>
<line x1="737.50" y1="290.00" x2="737.50" y2="286.20" stroke="#000" stroke-width="1.4"/>
<line x1="95.96" y1="517.50" x2="95.96" y2="513.70" stroke="#000" stroke-width="1.4"/>
<line x1="104.51" y1="517.50" x2="104.51" y2="513.70" stroke="#000" stroke-width="1.4"/>
<line x1="113.05" y1="517.50" x2="113.05" y2="513.70" stroke="#000" stroke-width="1.4"/>
<line x1="121.60" y1="517.50" x2="121.60" y2="510.00" stroke="#000" stroke-width="1.4"/>
<line x1="130.15" y1="517.50" x2="130.15" y2="513.70" stroke="#000" stroke-width="1.4"/>
<line x1="138.69" y1="517.50" x2="138.69" y2="513.70" stroke="#000" stroke-width="1.4"/>
<line x1="147.24" y1="517.50" x2="147.24" y2="513.70" stroke="#000" stroke-width="1.4"/>
<line x1="155.79" y1="517.50" x2="155.79" y2="513.70" stroke="#000" stroke-width="1.4"/>
<line x1="164.34" y1="517.50" x2="164.34" y2="510.00" stroke="#000" stroke-width="1.4"/>
<line x1="172.88" y1="517.50" x2="172.88" y2="513.70" stroke="#000" stroke-width="1.4"/>
<line x1="181.43" y1="517.50" x2="181.43" y2="513.70" stroke="#000" stroke-width="1.4"/>
<line x1="189.98" y1="517.50" x2="189.98" y2="513.70" stroke="#000" stroke-width="1.4"/>
<line x1="198.52" y1="517.50" x2="198.52" y2="513.70" stroke="#000" stroke-width="1.4"/>
<line x1="207.07" y1="517.50" x2="207.07" y2="510.00" stroke="#000" stroke-width="1.4"/>
<line x1="215.62" y1="517.50" x2="215.62" y2="513.70" stroke="#000" stroke-width="1.4"/>
<line x1="224.17" y1="517.50" x2="224.17" y2="513.70" stroke="#000" stroke-width="1.4"/>
<line x1="232.71" y1="517.50" x2="232.71" y2="513.70" stroke="#000" stroke-width="1.4"/>
<line x1="241.26" y1="517.50" x2="241.26" y2="513.70" stroke="#000" stroke-width="1.4"/>
<line x1="249.81" y1="517.50" x2="249.81" y2="510.00" stroke="#000" stroke-width="1.4"/>
<line x1="258.36" y1="517.50" x2="258.36" y2="513.70" stroke="#000" stroke-width="1.4"/>
<line x1="266.90" y1="517.50" x2="266.90" y2="513.70" stroke="#000" stroke-width="1.4"/>
<line x1="275.45" y1="517.50" x2="275.45" y2="513.70" stroke="#000" stroke-width="1.4"/>
<line x1="284.00" y1="517.50" x2="284.00" y2="513.70" stroke="#000" stroke-width="1.4"/>
<line x1="292.54" y1="517.50" x2="292.54" y2="510.00" stroke="#000" stroke-width="1.4"/>
<line x1="301.09" y1="517.50" x2="301.09" y2="513.70" stroke="#000" stroke-width="1.4"/>
<line x1="309.64" y1="517.50" x2="309.64" y2="513.70" stroke="#000" stroke-width="1.4"/>
<line x1="318.19" y1="517.50" x2="318.19" y2="513.70" stroke="#000" stroke-width="1.4"/>
<line x1="326.73" y1="517.50" x2="326.73" y2="513.70" stroke="#000" stroke-width="1.4"/>
<line x1="335.28" y1="517.50" x2="335.28" y2="510.00" stroke="#000" stroke-width="1.4"/>
<line x1="343.83" y1="517.50" x2="343.83" y2="513.70" stroke="#000" stroke-width="1.4"/>
<line x1="352.37" y1="517.50" x2="352.37" y2="513.70" stroke="#000" stroke-width="1.4"/>
<line x1="360.92" y1="517.50" x2="360.92" y2="513.70" stroke="#000" stroke-width="1.4"/>
<line x1="369.47" y1="517.50" x2="369.47" y2="513.70" stroke="#000" stroke-width="1.4"/>
<line x1="378.02" y1="517.50" x2="378.02" y2="510.00" stroke="#000" stroke-width="1.4"/>
<line x1="386.56" y1="517.50" x2="386.56" y2="513.70" stroke="#000" stroke-width="1.4"/>
<line x1="395.11" y1="517.50" x2="395.11" y2="513.70" stroke="#000" stroke-width="1.4"/>
<line x1="403.66" y1="517.50" x2="403.66" y2="513.70" stroke="#000" stroke-width="1.4"/>
<line x1="412.20" y1="517.50" x2="412.20" y2="513.70" stroke="#000" stroke-width="1.4"/>
<line x1="421.26" y1="517.50" x2="421.26" y2="513.70" stroke="#000" stroke-width="1.4"/>
<line x1="429.81" y1="517.50" x2="429.81" y2="513.70" stroke="#000" stroke-width="1.4"/>
<line x1="438.35" y1="517.50" x2="438.35" y2="513.70" stroke="#000" stroke-width="1.4"/>
<line x1="446.90" y1="517.50" x2="446.90" y2="510.00" stroke="#000" stroke-width="1.4"/>
<line x1="455.45" y1="517.50" x2="455.45" y2="513.70" stroke="#000" stroke-width="1.4"/>
<line x1="463.99" y1="517.50" x2="463.99" y2="513.70" stroke="#000" stroke-width="1.4"/>
<line x1="472.54" y1="517.50" x2="472.54" y2="513.70" stroke="#000" stroke-width="1.4"/>
<line x1="481.09" y1="517.50" x2="481.09" y2="513.70" stroke="#000" stroke-width="1.4"/>
<line x1="489.64" y1="517.50" x2="489.64" y2="510.00" stroke="#000" stroke-width="1.4"/>
<line x1="498.18" y1="517.50" x2="498.18" y2="513.70" stroke="#000" stroke-width="1.4"/>
<line x1="506.73" y1="517.50" x2="506.73" y2="513.70" stroke="#000" stroke-width="1.4"/>
<line x1="515.28" y1="517.50" x2="515.28" y2="513.70" stroke="#000" stroke-width="1.4"/>
<line x1="523.82" y1="517.50" x2="523.82" y2="513.70" stroke="#000" stroke-width="1.4"/>
<line x1="532.37" y1="517.50" x2="532.37" y2="510.00" stroke="#000" stroke-width="1.4"/>
<line x1="540.92" y1="517.50" x2="540.92" y2="513.70" stroke="#000" stroke-width="1.4"/>
<line x1="549.47" y1="517.50" x2="549.47" y2="513.70" stroke="#000" stroke-width="1.4"/>
<line x1="558.01" y1="517.50" x2="558.01" y2="513.70" stroke="#000" stroke-width="1.4"/>
<line x1="566.56" y1="517.50" x2="566.56" y2="513.70" stroke="#000" stroke-width="1.4"/>
<line x1="575.11" y1="517.50" x2="575.11" y2="510.00" stroke="#000" stroke-width="1.4"/>
<line x1="583.66" y1="517.50" x2="583.66" y2="513.70" stroke="#000" stroke-width="1.4"/>
<line x1="592.20" y1="517.50" x2="592.20" y2="513.70" stroke="#000" stroke-width="1.4"/>
<line x1="600.75" y1="517.50" x2="600.75" y2="513.70" stroke="#000" stroke-width="1.4"/>
<line x1="609.30" y1="517.50" x2="609.30" y2="513.70" stroke="#000" stroke-width="1.4"/>
<line x1="617.84" y1="517.50" x2="617.84" y2="510.00" stroke="#000" stroke-width="1.4"/>
<line x1="626.39" y1="517.50" x2="626.39" y2="513.70" stroke="#000" stroke-width="1.4"/>
<line x1="634.94" y1="517.50" x2="634.94" y2="513.70" stroke="#000" stroke-width="1.4"/>
<line x1="643.49" y1="517.50" x2="643.49" y2="513.70" stroke="#000" stroke-width="1.4"/>
<line x1="652.03" y1="517.50" x2="652.03" y2="513.70" stroke="#000" stroke-width="1.4"/>
<line x1="660.58" y1="517.50" x2="660.58" y2="510.00" stroke="#000" stroke-width="1.4"/>
<line x1="669.13" y1="517.50" x2="669.13" y2="513.70" stroke="#000" stroke-width="1.4"/>
<line x1="677.67" y1="517.50" x2="677.67" y2="513.70" stroke="#000" stroke-width="1.4"/>
<line x1="686.22" y1="517.50" x2="686.22" y2="513.70" stroke="#000" stroke-width="1.4"/>
<line x1="694.77" y1="517.50" x2="694.77" y2="513.70" stroke="#000" stroke-width="1.4"/>
<line x1="703.32" y1="517.50" x2="703.32" y2="510.00" stroke="#000" stroke-width="1.4"/>
<line x1="711.86" y1="517.50" x2="711.86" y2="513.70" stroke="#000" stroke-width="1.4"/>
<line x1="720.41" y1="517.50" x2="720.41" y2="513.70" stroke="#000" stroke-width="1.4"/>
<line x1="728.96" y1="517.50" x2="728.96" y2="513.70" stroke="#000" stroke-width="1.4"/>
<line x1="737.50" y1="517.50" x2="737.50" y2="513.70" stroke="#000" stroke-width="1.4"/>
<line x1="90.00" y1="285.84" x2="93.80" y2="285.84" stroke="#000" stroke-width="1.4"/>
<line x1="90.00" y1="273.44" x2="93.80" y2="273.44" stroke="#000" stroke-width="1.4"/>
<line x1="90.00" y1="261.03" x2="93.80" y2="261.03" stroke="#000" stroke-width="1.4"/>
<line x1="90.00" y1="248.62" x2="97.50" y2="248.62" stroke="#000" stroke-width="1.4"/>
<line x1="90.00" y1="236.21" x2="93.80" y2="236.21" stroke="#000" stroke-width="1.4"/>
<line x1="90.00" y1="223.80" x2="93.80" y2="223.80" stroke="#000" stroke-width="1.4"/>
<line x1="90.00" y1="211.40" x2="93.80" y2="211.40" stroke="#000" stroke-width="1.4"/>
<line x1="90.00" y1="198.99" x2="93.80" y2="198.99" stroke="#000" stroke-width="1.4"/>
<line x1="90.00" y1="186.58" x2="97.50" y2="186.58" stroke="#000" stroke-width="1.4"/>
<line x1="90.00" y1="174.17" x2="93.80" y2="174.17" stroke="#000" stroke-width="1.4"/>
<line x1="90.00" y1="161.76" x2="93.80" y2="161.76" stroke="#000" stroke-width="1.4"/>
<line x1="90.00" y1="149.36" x2="93.80" y2="149.36" stroke="#000" stroke-width="1.4"/>
<line x1="90.00" y1="136.95" x2="93.80" y2="136.95" stroke="#000" stroke-width="1.4"/>
<line x1="90.00" y1="124.54" x2="97.50" y2="124.54" stroke="#000" stroke-width="1.4"/>
<line x1="90.00" y1="112.13" x2="93.80" y2="112.13" stroke="#000" stroke-width="1.4"/>
<line x1="90.00" y1="99.72" x2="93.80" y2="99.72" stroke="#000" stroke-width="1.4"/>
<line x1="90.00" y1="87.32" x2="93.80" y2="87.32" stroke="#000" stroke-width="1.4"/>
<line x1="90.00" y1="74.91" x2="93.80" y2="74.91" stroke="#000" stroke-width="1.4"/>
<line x1="90.00" y1="62.50" x2="97.50" y2="62.50" stroke="#000" stroke-width="1.4"/>
<line x1="90.00" y1="511.04" x2="93.80" y2="511.04" stroke="#000" stroke-width="1.4"/>
<line x1="90.00" y1="495.82" x2="93.80" y2="495.82" stroke="#000" stroke-width="1.4"/>
<line x1="90.00" y1="480.60" x2="97.50" y2="480.60" stroke="#000" stroke-width="1.4"/>
<line x1="90.00" y1="465.38" x2="93.80" y2="465.38" stroke="#000" stroke-width="1.4"/>
<line x1="90.00" y1="450.16" x2="93.80" y2="450.16" stroke="#000" stroke-width="1.4"/>
<line x1="90.00" y1="434.94" x2="93.80" y2="434.94" stroke="#000" stroke-width="1.4"/>
<line x1="90.00" y1="419.72" x2="93.80" y2="419.72" stroke="#000" stroke-width="1.4"/>
<line x1="90.00" y1="404.50" x2="97.50" y2="404.50" stroke="#000" stroke-width="1.4"/>
<line x1="90.00" y1="389.28" x2="93.80" y2="389.28" stroke="#000" stroke-width="1.4"/>
<line x1="90.00" y1="374.06" x2="93.80" y2="374.06" stroke="#000" stroke-width="1.4"/>
<line x1="90.00" y1="358.84" x2="93.80" y2="358.84" stroke="#000" stroke-width="1.4"/>
<line x1="90.00" y1="343.62" x2="93.80" y2="343.62" stroke="#000" stroke-width="1.4"/>
<line x1="90.00" y1="328.40" x2="97.50" y2="328.40" stroke="#000" stroke-width="1.4"/>
<line x1="90.00" y1="313.18" x2="93.80" y2="313.18" stroke="#000" stroke-width="1.4"/>
<line x1="90.00" y1="297.96" x2="93.80" y2="297.96" stroke="#000" stroke-width="1.4"/>
<line x1="740.50" y1="284.92" x2="736.70" y2="284.92" stroke="#000" stroke-width="1.4"/>
<line x1="740.50" y1="275.85" x2="736.70" y2="275.85" stroke="#000" stroke-width="1.4"/>
<line x1="740.50" y1="266.77" x2="733.00" y2="266.77" stroke="#000" stroke-width="1.4"/>
<line x1="740.50" y1="257.69" x2="736.70" y2="257.69" stroke="#000" stroke-width="1.4"/>
<line x1="740.50" y1="248.62" x2="736.70" y2="248.62" stroke="#000" stroke-width="1.4"/>
<line x1="740.50" y1="239.54" x2="736.70" y2="239.54" stroke="#000" stroke-width="1.4"/>
<line x1="740.50" y1="230.47" x2="736.70" y2="230.47" stroke="#000" stroke-width="1.4"/>
<line x1="740.50" y1="221.39" x2="733.00" y2="221.39" stroke="#000" stroke-width="1.4"/>
<line x1="740.50" y1="212.31" x2="736.70" y2="212.31" stroke="#000" stroke-width="1.4"/>
<line x1="740.50" y1="203.24" x2="736.70" y2="203.24" stroke="#000" stroke-width="1.4"/>
<line x1="740.50" y1="194.16" x2="736.70" y2="194.16" stroke="#000" stroke-width="1.4"/>
<line x1="740.50" y1="185.09" x2="736.70" y2="185.09" stroke="#000" stroke-width="1.4"/>
<line x1="740.50" y1="176.01" x2="733.00" y2="176.01" stroke="#000" stroke-width="1.4"/>
<line x1="740.50" y1="166.93" x2="736.70" y2="166.93" stroke="#000" stroke-width="1.4"/>
<line x1="740.50" y1="157.86" x2="736.70" y2="157.86" stroke="#000" stroke-width="1.4"/>
<line x1="740.50" y1="148.78" x2="736.70" y2="148.78" stroke="#000" stroke-width="1.4"/>
<line x1="740.50" y1="139.71" x2="736.70" y2="139.71" stroke="#000" stroke-width="1.4"/>
<line x1="740.50" y1="130.63" x2="733.00" y2="130.63" stroke="#000" stroke-width="1.4"/>
<line x1="740.50" y1="121.55" x2="736.70" y2="121.55" stroke="#000" stroke-width="1.4"/>
<line x1="740.50" y1="112.48" x2="736.70" y2="112.48" stroke="#000" stroke-width="1.4"/>
<line x1="740.50" y1="103.40" x2="736.70" y2="103.40" stroke="#000" stroke-width="1.4"/>
<line x1="740.50" y1="94.33" x2="736.70" y2="94.33" stroke="#000" stroke-width="1.4"/>
<line x1="740.50" y1="85.25" x2="733.00" y2="85.25" stroke="#000" stroke-width="1.4"/>
<line x1="740.50" y1="76.17" x2="736.70" y2="76.17" stroke="#000" stroke-width="1.4"/>
<line x1="740.50" y1="67.10" x2="736.70" y2="67.10" stroke="#000" stroke-width="1.4"/>
<line x1="740.50" y1="517.50" x2="733.00" y2="517.50" stroke="#000" stroke-width="1.4"/>
<line x1="740.50" y1="506.67" x2="736.70" y2="506.67" stroke="#000" stroke-width="1.4"/>
<line x1="740.50" y1="495.85" x2="736.70" y2="495.85" stroke="#000" stroke-width="1.4"/>
<line x1="740.50" y1="485.02" x2="736.70" y2="485.02" stroke="#000" stroke-width="1.4"/>
<line x1="740.50" y1="474.20" x2="736.70" y2="474.20" stroke="#000" stroke-width="1.4"/>
<line x1="740.50" y1="463.38" x2="733.00" y2="463.38" stroke="#000" stroke-width="1.4"/>
<line x1="740.50" y1="452.55" x2="736.70" y2="452.55" stroke="#000" stroke-width="1.4"/>
<line x1="740.50" y1="441.72" x2="736.70" y2="441.72" stroke="#000" stroke-width="1.4"/>
<line x1="740.50" y1="430.90" x2="736.70" y2="430.90" stroke="#000" stroke-width="1.4"/>
<line x1="740.50" y1="420.07" x2="736.70" y2="420.07" stroke="#000" stroke-width="1.4"/>
<line x1="740.50" y1="409.25" x2="733.00" y2="409.25" stroke="#000" stroke-width="1.4"/>
<line x1="740.50" y1="398.42" x2="736.70" y2="398.42" stroke="#000" stroke-width="1.4"/>
<line x1="740.50" y1="387.60" x2="736.70" y2="387.60" stroke="#000" stroke-width="1.4"/>
<line x1="740.50" y1="376.77" x2="736.70" y2="376.77" stroke="#000" stroke-width="1.4"/>
<line x1="740.50" y1="365.95" x2="736.70" y2="365.95" stroke="#000" stroke-width="1.4"/>
<line x1="740.50" y1="355.12" x2="733.00" y2="355.12" stroke="#000" stroke-width="1.4"/>
<line x1="740.50" y1="344.30" x2="736.70" y2="344.30" stroke="#000" stroke-width="1.4"/>
<line x1="740.50" y1="333.47" x2="736.70" y2="333.47" stroke="#000" stroke-width="1.4"/>
<line x1="740.50" y1="322.65" x2="736.70" y2="322.65" stroke="#000" stroke-width="1.4"/>
<line x1="740.50" y1="311.82" x2="736.70" y2="311.82" stroke="#000" stroke-width="1.4"/>
<line x1="740.50" y1="301.00" x2="733.00" y2="301.00" stroke="#000" stroke-width="1.4"/>
<line x1="740.50" y1="290.17" x2="736.70" y2="290.17" stroke="#000" stroke-width="1.4"/>
<text x="85.8" y="72.0" font-size="27.3" text-anchor="end" fill="#000" stroke="#000">13.5</text>
<text x="85.8" y="134.0" font-size="27.3" text-anchor="end" fill="#000" stroke="#000">13.2</text>
<text x="85.8" y="196.1" font-size="27.3" text-anchor="end" fill="#000" stroke="#000">12.9</text>
<text x="85.8" y="258.1" font-size="27.3" text-anchor="end" fill="#000" stroke="#000">12.6</text>
<text x="85.8" y="337.9" font-size="27.3" text-anchor="end" fill="#000" stroke="#000">12.4</text>
<text x="85.8" y="414.0" font-size="27.3" text-anchor="end" fill="#000" stroke="#000">12.2</text>
<text x="85.8" y="490.1" font-size="27.3" text-anchor="end" fill="#000" stroke="#000">12.0</text>
<text x="742.0" y="95.8" font-size="29.5" text-anchor="start" fill="#000" stroke="#000">12.3</text>
<text x="742.0" y="141.2" font-size="29.5" text-anchor="start" fill="#000" stroke="#000">12.2</text>
<text x="742.0" y="186.6" font-size="29.5" text-anchor="start" fill="#000" stroke="#000">12.1</text>
<text x="742.0" y="232.0" font-size="29.5" text-anchor="start" fill="#000" stroke="#000">12.0</text>
<text x="742.0" y="277.4" font-size="29.5" text-anchor="start" fill="#000" stroke="#000">11.9</text>
<text x="745.1" y="310.9" font-size="27.3" text-anchor="start" fill="#000" stroke="#000">14.0</text>
<text x="745.1" y="365.0" font-size="27.3" text-anchor="start" fill="#000" stroke="#000">13.5</text>
<text x="745.1" y="419.1" font-size="27.3" text-anchor="start" fill="#000" stroke="#000">13.0</text>
<text x="745.1" y="473.3" font-size="27.3" text-anchor="start" fill="#000" stroke="#000">12.5</text>
<text x="745.1" y="527.4" font-size="27.3" text-anchor="start" fill="#000" stroke="#000">12.0</text>
<text x="125.1" y="541.5" font-size="30" text-anchor="middle" fill="#000" stroke="#000">56</text>
<text x="167.8" y="541.5" font-size="30" text-anchor="middle" fill="#000" stroke="#000">64</text>
<text x="210.6" y="541.5" font-size="30" text-anchor="middle" fill="#000" stroke="#000">72</text>
<text x="253.3" y="541.5" font-size="30" text-anchor="middle" fill="#000" stroke="#000">80</text>
<text x="296.0" y="541.5" font-size="30" text-anchor="middle" fill="#000" stroke="#000">88</text>
<text x="338.8" y="541.5" font-size="30" text-anchor="middle" fill="#000" stroke="#000">96</text>
<text x="381.5" y="541.5" font-size="30" text-anchor="middle" fill="#000" stroke="#000">104</text>
<text x="252.7" y="569.5" font-size="30" text-anchor="middle" fill="#000" stroke="#000">L (MeV)</text>
<text x="450.4" y="541.5" font-size="30" text-anchor="middle" fill="#000" stroke="#000">56</text>
<text x="493.1" y="541.5" font-size="30" text-anchor="middle" fill="#000" stroke="#000">64</text>
<text x="535.9" y="541.5" font-size="30" text-anchor="middle" fill="#000" stroke="#000">72</text>
<text x="578.6" y="541.5" font-size="30" text-anchor="middle" fill="#000" stroke="#000">80</text>
<text x="621.3" y="541.5" font-size="30" text-anchor="middle" fill="#000" stroke="#000">88</text>
<text x="664.1" y="541.5" font-size="30" text-anchor="middle" fill="#000" stroke="#000">96</text>
<text x="706.8" y="541.5" font-size="30" text-anchor="middle" fill="#000" stroke="#000">104</text>
<text x="578.0" y="569.5" font-size="30" text-anchor="middle" fill="#000" stroke="#000">L (MeV)</text>
<text transform="translate(26.8,177) rotate(-90)" font-size="28" text-anchor="middle" stroke="#000">R (km)</text>
<text transform="translate(26.8,404) rotate(-90)" font-size="28" text-anchor="middle" stroke="#000">R (km)</text>
<text transform="translate(816.5,176.3) rotate(-90)" font-size="28.6" text-anchor="middle" stroke="#000">R [km]</text>
<text transform="translate(821.5,403.5) rotate(-90)" font-size="28" text-anchor="middle" stroke="#000">R (km)</text>
<text x="116.5" y="101.0" font-size="30" text-anchor="start" fill="#000" stroke="#000">(a)</text>
<text x="441.5" y="104.3" font-size="30" text-anchor="start" fill="#000" stroke="#000">(b)</text>
<text x="116.5" y="338.0" font-size="30" text-anchor="start" fill="#000" stroke="#000">(c)</text>
<text x="441.5" y="338.0" font-size="30" text-anchor="start" fill="#000" stroke="#000">(d)</text>
<text x="222.5" y="94.4" font-size="27.3" text-anchor="end" fill="#000" stroke="#000"><tspan dy="2.8">+</tspan><tspan dy="-2.8">18</tspan></text>
<text x="222.5" y="125.0" font-size="27.3" text-anchor="end" fill="#000" stroke="#000">0</text>
<text x="222.5" y="155.2" font-size="27.3" text-anchor="end" fill="#000" stroke="#000"><tspan dy="2.8">−</tspan><tspan dy="-2.8">18</tspan></text>
<line x1="240" y1="85" x2="314" y2="85" stroke="#000" stroke-width="3.8"/>
<line x1="240" y1="115.5" x2="314" y2="115.5" stroke="#000" stroke-width="3.8" stroke-dasharray="3.7,4.98"/>
<line x1="240" y1="146" x2="314" y2="146" stroke="#000" stroke-width="3.8" stroke-dasharray="21,6.8,3.8,6.4"/>
<text x="292.70" y="242.00" font-size="30" fill="#000" stroke="#000">no</text>
<text x="322.70" y="244.30" font-size="30" fill="#000" stroke="#000">−</text>
<text x="339.62" y="242.00" font-size="30" fill="#000" stroke="#000">ϕ</text>
<text transform="translate(355.41,242.00) scale(1.12,1)" font-size="30" fill="#000" stroke="#000">σ</text>
<text x="373.52" y="226.50" font-size="23" fill="#000" stroke="#000">*</text>
<text x="554.30" y="367.80" font-size="30" fill="#000" stroke="#000">ϕ</text>
<text transform="translate(570.09,367.80) scale(1.12,1)" font-size="30" fill="#000" stroke="#000">σ</text>
<text x="588.20" y="352.30" font-size="23" fill="#000" stroke="#000">*</text>
<text x="554.00" y="135.00" font-size="30" fill="#000" stroke="#000">2g</text>
<text x="584.00" y="145.00" font-size="24" fill="#000" stroke="#000">ϕ</text>
<text x="596.63" y="151.30" font-size="17.5" fill="#000" stroke="#000">B</text>
<text x="228.00" y="367.50" font-size="30" fill="#000" stroke="#000">g</text>
<text x="243.00" y="377.50" font-size="24" fill="#000" stroke="#000">ϕ</text>
<text x="255.63" y="383.80" font-size="17.5" fill="#000" stroke="#000">B</text>
<text transform="translate(463.00,188.00) scale(0.97,1)" font-size="30" fill="#ff0000" stroke="#ff0000">Λ</text>
<text transform="translate(484.10,196.50) scale(1.12,1)" font-size="23.5" fill="#ff0000" stroke="#ff0000">σ</text>
<text transform="translate(538.30,252.20) scale(0.97,1)" font-size="30" fill="#0000ff" stroke="#0000ff">Λ</text>
<text x="559.40" y="260.70" font-size="23.5" fill="#0000ff" stroke="#0000ff">ω</text>
</svg></body></html>
